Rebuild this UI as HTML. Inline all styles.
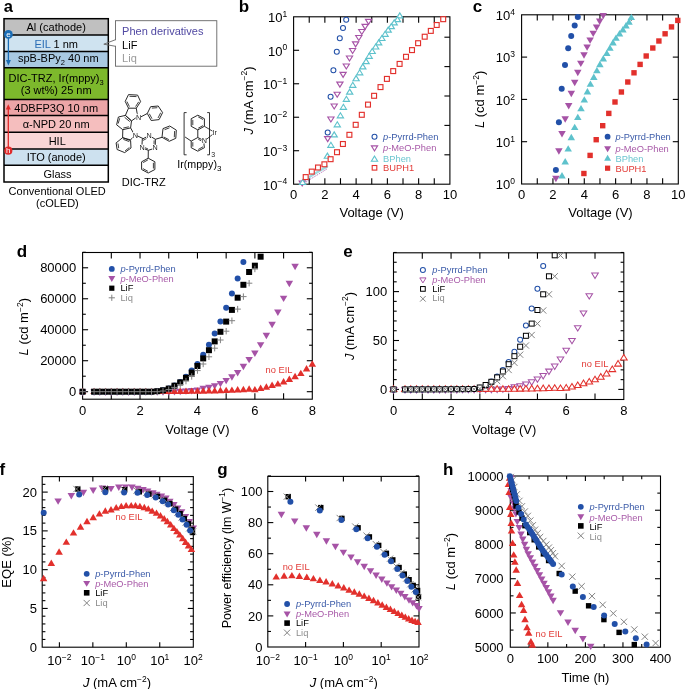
<!DOCTYPE html>
<html><head><meta charset="utf-8"><style>
html,body{margin:0;padding:0;background:#fff;}
svg{display:block;will-change:transform;}
text{font-family:"Liberation Sans",sans-serif;}
</style></head><body>
<svg width="685" height="689" viewBox="0 0 685 689">
<rect width="685" height="689" fill="#fff"/>
<text x="3.7" y="11.7" fill="#000" style="font-size:16.5px;font-weight:bold;">a</text>
<rect x="4" y="18.7" width="104.3" height="16.4" fill="#c0c0c0"/>
<rect x="4" y="35.1" width="104.3" height="16.5" fill="#cfe3f0"/>
<rect x="4" y="51.6" width="104.3" height="16.2" fill="#a9c9e2"/>
<rect x="4" y="67.8" width="104.3" height="31.7" fill="#7db92c"/>
<rect x="4" y="99.5" width="104.3" height="16.1" fill="#eca5a7"/>
<rect x="4" y="115.6" width="104.3" height="16.7" fill="#f5bebe"/>
<rect x="4" y="132.3" width="104.3" height="16.6" fill="#f9d6d6"/>
<rect x="4" y="148.9" width="104.3" height="16.4" fill="#cde1ef"/>
<rect x="4" y="165.3" width="104.3" height="16.7" fill="#ffffff"/>
<line x1="4" y1="35.1" x2="108.3" y2="35.1" stroke="#000" stroke-width="1.5"/>
<line x1="4" y1="51.6" x2="108.3" y2="51.6" stroke="#000" stroke-width="1.5"/>
<line x1="4" y1="67.8" x2="108.3" y2="67.8" stroke="#000" stroke-width="1.5"/>
<line x1="4" y1="99.5" x2="108.3" y2="99.5" stroke="#000" stroke-width="1.5"/>
<line x1="4" y1="115.6" x2="108.3" y2="115.6" stroke="#000" stroke-width="1.5"/>
<line x1="4" y1="132.3" x2="108.3" y2="132.3" stroke="#000" stroke-width="1.5"/>
<line x1="4" y1="148.9" x2="108.3" y2="148.9" stroke="#000" stroke-width="1.5"/>
<line x1="4" y1="165.3" x2="108.3" y2="165.3" stroke="#000" stroke-width="1.5"/>
<rect x="4" y="18.7" width="104.3" height="163.3" fill="none" stroke="#000" stroke-width="1.5"/>
<text x="56.2" y="31.1" text-anchor="middle" fill="#000" style="font-size:11px;">Al (cathode)</text>
<text x="56.2" y="47.9" text-anchor="middle" fill="#000" style="font-size:11px;"><tspan fill="#2a6db5">EIL</tspan> 1 nm</text>
<text x="58.3" y="62.3" text-anchor="middle" fill="#000" style="font-size:11px;">spB-BPy<tspan dy="2.5" font-size="7.5">2</tspan><tspan dy="-2.5"> 40 nm</tspan></text>
<text x="56.1" y="82.2" text-anchor="middle" fill="#000" style="font-size:11px;">DIC-TRZ, Ir(mppy)<tspan dy="2.5" font-size="7.5">3</tspan></text>
<text x="56.2" y="93.5" text-anchor="middle" fill="#000" style="font-size:11px;">(3 wt%) 25 nm</text>
<text x="56.2" y="111.6" text-anchor="middle" fill="#000" style="font-size:11px;">4DBFP3Q 10 nm</text>
<text x="56.2" y="128" text-anchor="middle" fill="#000" style="font-size:11px;">&#945;-NPD 20 nm</text>
<text x="57.2" y="144.6" text-anchor="middle" fill="#000" style="font-size:11px;">HIL</text>
<text x="56.2" y="160.9" text-anchor="middle" fill="#000" style="font-size:11px;">ITO (anode)</text>
<text x="57.5" y="177.6" text-anchor="middle" fill="#000" style="font-size:11px;">Glass</text>
<text x="57.2" y="195" text-anchor="middle" fill="#000" style="font-size:11px;">Conventional OLED</text>
<text x="57.4" y="207.3" text-anchor="middle" fill="#000" style="font-size:11px;">(cOLED)</text>
<line x1="8.4" y1="37.5" x2="8.4" y2="61" stroke="#1b6db5" stroke-width="1.3"/>
<polygon points="5.9,60.0 10.9,60.0 8.4,65.4" fill="#1b6db5"/>
<circle cx="8.4" cy="34.4" r="4.4" fill="#1b6db5"/>
<text x="8.4" y="36.9" text-anchor="middle" fill="#fff" style="font-size:8px;">e</text>
<line x1="8.3" y1="147.5" x2="8.3" y2="109" stroke="#e02a2a" stroke-width="1.3"/>
<polygon points="5.8,109.6 10.8,109.6 8.3,104.2" fill="#e02a2a"/>
<circle cx="8.3" cy="150.7" r="4.1" fill="#e02a2a"/>
<text x="8.3" y="153.4" text-anchor="middle" fill="#fff" style="font-size:8px;">h</text>
<rect x="115.5" y="20.7" width="101.3" height="45.5" fill="#fff" stroke="#666" stroke-width="0.9"/>
<line x1="115.5" y1="40.2" x2="115.5" y2="45.8" stroke="#fff" stroke-width="1.6"/>
<polyline points="115.5,39.7 103.8,44.2 115.5,46.3" fill="none" stroke="#666" stroke-width="0.9"/>
<text x="122.1" y="34.5" fill="#5048a2" style="font-size:11px;">Phen derivatives</text>
<text x="122.1" y="48.6" fill="#000" style="font-size:11px;">LiF</text>
<text x="122.1" y="62" fill="#9a9a9a" style="font-size:11px;">Liq</text>
<polygon points="128.5,94.6 137.6,95.1 140.6,101.6 136.3,108.2 128.5,108.2 125.2,101.4" fill="none" stroke="#1e1e1e" stroke-width="0.95" stroke-linejoin="round"/>
<line x1="129.5" y1="96.3" x2="136.5" y2="96.6" stroke="#1e1e1e" stroke-width="0.85"/>
<line x1="126.9" y1="101.5" x2="129.4" y2="106.6" stroke="#1e1e1e" stroke-width="0.85"/>
<line x1="138.7" y1="101.8" x2="135.6" y2="106.6" stroke="#1e1e1e" stroke-width="0.85"/>
<polyline points="128.5,108.2 125.4,115.4 131.5,120.9 137.6,116.6 136.3,108.2" fill="none" stroke="#1e1e1e" stroke-width="0.95" stroke-linejoin="round"/>
<polygon points="125.4,115.4 131.5,120.9 130.6,127.9 122.8,129.7 116.6,124.8 118.4,117" fill="none" stroke="#1e1e1e" stroke-width="0.95" stroke-linejoin="round"/>
<line x1="118.2" y1="123.5" x2="119.7" y2="118.3" stroke="#1e1e1e" stroke-width="0.85"/>
<line x1="124.6" y1="117.3" x2="129.8" y2="121.6" stroke="#1e1e1e" stroke-width="0.85"/>
<line x1="123.3" y1="128" x2="128.9" y2="126.8" stroke="#1e1e1e" stroke-width="0.85"/>
<polyline points="130.6,127.9 134,134" fill="none" stroke="#1e1e1e" stroke-width="0.95" stroke-linejoin="round"/>
<polyline points="134,136 130.6,139.9 122.6,137.7 122.8,129.7" fill="none" stroke="#1e1e1e" stroke-width="0.95" stroke-linejoin="round"/>
<polygon points="122.6,137.7 130.6,140.6 131,148 124.7,152.6 117.1,149.5 116.1,142.9" fill="none" stroke="#1e1e1e" stroke-width="0.95" stroke-linejoin="round"/>
<line x1="118" y1="143.5" x2="118.7" y2="148.2" stroke="#1e1e1e" stroke-width="0.85"/>
<line x1="125.1" y1="150.8" x2="129.4" y2="147.5" stroke="#1e1e1e" stroke-width="0.85"/>
<line x1="123.4" y1="139.4" x2="129.3" y2="141.6" stroke="#1e1e1e" stroke-width="0.85"/>
<text x="138.6" y="119.6" text-anchor="middle" fill="#1e1e1e" style="font-size:7.2px;" stroke="#fff" stroke-width="1.6" paint-order="stroke">N</text>
<text x="135.3" y="137.6" text-anchor="middle" fill="#1e1e1e" style="font-size:7.2px;" stroke="#fff" stroke-width="1.6" paint-order="stroke">N</text>
<line x1="140.8" y1="116.9" x2="147.3" y2="113.5" stroke="#1e1e1e" stroke-width="0.95"/>
<polygon points="147.3,113.5 150.6,106.7 158.2,106 162.6,112.6 159.1,119.6 151.2,120.5" fill="none" stroke="#1e1e1e" stroke-width="0.95" stroke-linejoin="round"/>
<line x1="151.9" y1="108.1" x2="157.3" y2="107.7" stroke="#1e1e1e" stroke-width="0.85"/>
<line x1="160.7" y1="112.7" x2="158" y2="118" stroke="#1e1e1e" stroke-width="0.85"/>
<line x1="149.3" y1="113.7" x2="152" y2="118.7" stroke="#1e1e1e" stroke-width="0.85"/>
<line x1="137.2" y1="135.8" x2="143.1" y2="138.6" stroke="#1e1e1e" stroke-width="0.95"/>
<line x1="142.3" y1="139.1" x2="146.6" y2="136.9" stroke="#1e1e1e" stroke-width="0.95"/>
<line x1="143" y1="140.4" x2="146.7" y2="138.5" stroke="#1e1e1e" stroke-width="0.8"/>
<line x1="151.4" y1="136.9" x2="155.4" y2="139.3" stroke="#1e1e1e" stroke-width="0.95"/>
<line x1="155.4" y1="139.3" x2="155.3" y2="144.9" stroke="#1e1e1e" stroke-width="0.95"/>
<line x1="154.1" y1="140.4" x2="154" y2="144.6" stroke="#1e1e1e" stroke-width="0.8"/>
<line x1="152.7" y1="148.9" x2="148.3" y2="150.3" stroke="#1e1e1e" stroke-width="0.95"/>
<line x1="148.3" y1="150.3" x2="144.4" y2="148.8" stroke="#1e1e1e" stroke-width="0.95"/>
<line x1="148.1" y1="149" x2="145" y2="147.7" stroke="#1e1e1e" stroke-width="0.8"/>
<line x1="142" y1="144.7" x2="142.3" y2="139.1" stroke="#1e1e1e" stroke-width="0.95"/>
<text x="149" y="138.2" text-anchor="middle" fill="#1e1e1e" style="font-size:7.2px;" stroke="#fff" stroke-width="1.2" paint-order="stroke">N</text>
<text x="155" y="150.2" text-anchor="middle" fill="#1e1e1e" style="font-size:7.2px;" stroke="#fff" stroke-width="1.2" paint-order="stroke">N</text>
<text x="142" y="149.9" text-anchor="middle" fill="#1e1e1e" style="font-size:7.2px;" stroke="#fff" stroke-width="1.2" paint-order="stroke">N</text>
<line x1="155.4" y1="139.3" x2="162" y2="137.3" stroke="#1e1e1e" stroke-width="0.95"/>
<polygon points="162,137.3 163,128.6 169.7,126 176.3,130.1 175.8,138.3 169.2,141.3" fill="none" stroke="#1e1e1e" stroke-width="0.95" stroke-linejoin="round"/>
<line x1="164.6" y1="129.7" x2="169.5" y2="127.8" stroke="#1e1e1e" stroke-width="0.85"/>
<line x1="174.6" y1="131" x2="174.3" y2="137.3" stroke="#1e1e1e" stroke-width="0.85"/>
<line x1="163.7" y1="137" x2="168.8" y2="139.6" stroke="#1e1e1e" stroke-width="0.85"/>
<line x1="148.3" y1="150.3" x2="148.2" y2="158.2" stroke="#1e1e1e" stroke-width="0.95"/>
<polygon points="148.2,158.2 154.9,161.8 154.9,169.5 148.2,173 141.6,169.5 141.6,161.8" fill="none" stroke="#1e1e1e" stroke-width="0.95" stroke-linejoin="round"/>
<line x1="153.4" y1="162.8" x2="153.4" y2="168.5" stroke="#1e1e1e" stroke-width="0.85"/>
<line x1="147.9" y1="171.3" x2="142.9" y2="168.6" stroke="#1e1e1e" stroke-width="0.85"/>
<line x1="143.1" y1="162.6" x2="147.9" y2="159.9" stroke="#1e1e1e" stroke-width="0.85"/>
<text x="143.7" y="185.5" text-anchor="middle" fill="#000" style="font-size:11px;">DIC-TRZ</text>
<polyline points="186.6,112.6 184.1,112.6 184.1,154.8 186.6,154.8" fill="none" stroke="#1e1e1e" stroke-width="0.9" stroke-linejoin="round"/>
<polyline points="207.2,112.6 209.5,112.6 209.5,154.8 207.2,154.8" fill="none" stroke="#1e1e1e" stroke-width="0.9" stroke-linejoin="round"/>
<text x="211.3" y="157" fill="#1e1e1e" style="font-size:7px;">3</text>
<polygon points="197.8,115.2 204.4,118.7 204.4,126.3 197.8,129.9 191.2,126.3 191.2,118.7" fill="none" stroke="#1e1e1e" stroke-width="0.95" stroke-linejoin="round"/>
<line x1="192.8" y1="119.8" x2="192.8" y2="125.2" stroke="#1e1e1e" stroke-width="0.85"/>
<line x1="198.2" y1="116.9" x2="203" y2="119.5" stroke="#1e1e1e" stroke-width="0.85"/>
<line x1="198.2" y1="128.2" x2="203" y2="125.6" stroke="#1e1e1e" stroke-width="0.85"/>
<line x1="197.8" y1="129.9" x2="197.8" y2="137.5" stroke="#1e1e1e" stroke-width="0.95"/>
<polygon points="197.8,137.5 203.5,140.4 204.4,147.7 197.8,151.2 191.2,147.7 191.2,141.1" fill="none" stroke="#1e1e1e" stroke-width="0.95" stroke-linejoin="round"/>
<line x1="192.8" y1="142.2" x2="192.8" y2="146.6" stroke="#1e1e1e" stroke-width="0.85"/>
<line x1="198.2" y1="149.5" x2="203" y2="146.8" stroke="#1e1e1e" stroke-width="0.85"/>
<line x1="198.2" y1="139.2" x2="201.5" y2="141" stroke="#1e1e1e" stroke-width="0.85"/>
<line x1="191.2" y1="141.1" x2="185.1" y2="137" stroke="#1e1e1e" stroke-width="0.95"/>
<text x="204.4" y="142.6" text-anchor="middle" fill="#1e1e1e" style="font-size:7.2px;" stroke="#fff" stroke-width="1.6" paint-order="stroke">N</text>
<line x1="204.4" y1="126.3" x2="213.6" y2="131.8" stroke="#1e1e1e" stroke-width="0.85"/>
<line x1="206.5" y1="139.3" x2="213.6" y2="133.6" stroke="#1e1e1e" stroke-width="0.85"/>
<text x="212.6" y="135.2" fill="#1e1e1e" style="font-size:7.2px;" stroke="#fff" stroke-width="1.4" paint-order="stroke">Ir</text>
<text x="177.2" y="168" fill="#000" style="font-size:10.7px;">Ir(mppy)<tspan dy="3" font-size="8">3</tspan></text>
<text x="238.8" y="11.6" fill="#000" style="font-size:17px;font-weight:bold;">b</text>
<rect x="293.6" y="16.8" width="156.3" height="167.4" fill="none" stroke="#000" stroke-width="1.1"/>
<line x1="309.23" y1="184.2" x2="309.23" y2="178.2" stroke="#000" stroke-width="1.1"/>
<line x1="309.23" y1="16.8" x2="309.23" y2="22.8" stroke="#000" stroke-width="1.1"/>
<line x1="324.86" y1="184.2" x2="324.86" y2="178.2" stroke="#000" stroke-width="1.1"/>
<line x1="324.86" y1="16.8" x2="324.86" y2="22.8" stroke="#000" stroke-width="1.1"/>
<line x1="340.49" y1="184.2" x2="340.49" y2="178.2" stroke="#000" stroke-width="1.1"/>
<line x1="340.49" y1="16.8" x2="340.49" y2="22.8" stroke="#000" stroke-width="1.1"/>
<line x1="356.12" y1="184.2" x2="356.12" y2="178.2" stroke="#000" stroke-width="1.1"/>
<line x1="356.12" y1="16.8" x2="356.12" y2="22.8" stroke="#000" stroke-width="1.1"/>
<line x1="371.75" y1="184.2" x2="371.75" y2="178.2" stroke="#000" stroke-width="1.1"/>
<line x1="371.75" y1="16.8" x2="371.75" y2="22.8" stroke="#000" stroke-width="1.1"/>
<line x1="387.38" y1="184.2" x2="387.38" y2="178.2" stroke="#000" stroke-width="1.1"/>
<line x1="387.38" y1="16.8" x2="387.38" y2="22.8" stroke="#000" stroke-width="1.1"/>
<line x1="403.01" y1="184.2" x2="403.01" y2="178.2" stroke="#000" stroke-width="1.1"/>
<line x1="403.01" y1="16.8" x2="403.01" y2="22.8" stroke="#000" stroke-width="1.1"/>
<line x1="418.64" y1="184.2" x2="418.64" y2="178.2" stroke="#000" stroke-width="1.1"/>
<line x1="418.64" y1="16.8" x2="418.64" y2="22.8" stroke="#000" stroke-width="1.1"/>
<line x1="434.27" y1="184.2" x2="434.27" y2="178.2" stroke="#000" stroke-width="1.1"/>
<line x1="434.27" y1="16.8" x2="434.27" y2="22.8" stroke="#000" stroke-width="1.1"/>
<line x1="293.6" y1="150.72" x2="299.1" y2="150.72" stroke="#000" stroke-width="1.1"/>
<line x1="293.6" y1="117.24" x2="299.1" y2="117.24" stroke="#000" stroke-width="1.1"/>
<line x1="293.6" y1="83.76" x2="299.1" y2="83.76" stroke="#000" stroke-width="1.1"/>
<line x1="293.6" y1="50.28" x2="299.1" y2="50.28" stroke="#000" stroke-width="1.1"/>
<line x1="449.9" y1="154.8" x2="444.4" y2="154.8" stroke="#000" stroke-width="1.1"/>
<line x1="449.9" y1="125.4" x2="444.4" y2="125.4" stroke="#000" stroke-width="1.1"/>
<line x1="449.9" y1="96" x2="444.4" y2="96" stroke="#000" stroke-width="1.1"/>
<line x1="449.9" y1="66.6" x2="444.4" y2="66.6" stroke="#000" stroke-width="1.1"/>
<line x1="449.9" y1="37.2" x2="444.4" y2="37.2" stroke="#000" stroke-width="1.1"/>
<text x="293.6" y="198.6" text-anchor="middle" fill="#000" style="font-size:13px;">0</text>
<text x="324.86" y="198.6" text-anchor="middle" fill="#000" style="font-size:13px;">2</text>
<text x="356.12" y="198.6" text-anchor="middle" fill="#000" style="font-size:13px;">4</text>
<text x="387.38" y="198.6" text-anchor="middle" fill="#000" style="font-size:13px;">6</text>
<text x="418.64" y="198.6" text-anchor="middle" fill="#000" style="font-size:13px;">8</text>
<text x="449.9" y="198.6" text-anchor="middle" fill="#000" style="font-size:13px;">10</text>
<text x="277.51" y="189.5" text-anchor="end" fill="#000" style="font-size:13px;">10</text>
<text x="277.51" y="184.3" fill="#000" style="font-size:8.5px;">&#8722;4</text>
<text x="277.51" y="156.02" text-anchor="end" fill="#000" style="font-size:13px;">10</text>
<text x="277.51" y="150.82" fill="#000" style="font-size:8.5px;">&#8722;3</text>
<text x="277.51" y="122.54" text-anchor="end" fill="#000" style="font-size:13px;">10</text>
<text x="277.51" y="117.34" fill="#000" style="font-size:8.5px;">&#8722;2</text>
<text x="277.51" y="89.06" text-anchor="end" fill="#000" style="font-size:13px;">10</text>
<text x="277.51" y="83.86" fill="#000" style="font-size:8.5px;">&#8722;1</text>
<text x="282.47" y="55.58" text-anchor="end" fill="#000" style="font-size:13px;">10</text>
<text x="282.47" y="50.38" fill="#000" style="font-size:8.5px;">0</text>
<text x="282.47" y="22.1" text-anchor="end" fill="#000" style="font-size:13px;">10</text>
<text x="282.47" y="16.9" fill="#000" style="font-size:8.5px;">1</text>
<text x="371.6" y="217" text-anchor="middle" fill="#000" style="font-size:13px;">Voltage (V)</text>
<g transform="translate(252.8 100.5) rotate(-90)">
<text x="0" y="0" text-anchor="middle" style="font-size:13px"><tspan font-style="italic">J</tspan> (mA cm<tspan dy="-5.6" font-size="8.5">&#8722;2</tspan><tspan dy="5.6">)</tspan></text>
</g>
<polyline points="302.5,181.3 309,177.3 315,173.6 321,170.0 327,166.6" fill="none" stroke="#5ec2cc" stroke-width="2.4" stroke-opacity="0.6" stroke-linecap="round"/>
<polyline points="303.5,183.8 309.5,179.7 315.5,176.0 321.5,172.4 327.5,168.6" fill="none" stroke="#a653a6" stroke-width="1.0" stroke-dasharray="1.6 1.0" stroke-opacity="0.75"/>
<polygon points="299.2,181 305.2,181 302.2,185.8" fill="#fff" stroke="#a653a6" stroke-width="1.15" stroke-linejoin="miter"/>
<polygon points="299.5,184.5 305.7,184.5 302.6,179.5" fill="#fff" stroke="#5ec2cc" stroke-width="1.15" stroke-linejoin="miter"/>
<polygon points="396.7,17.9 402.9,17.9 399.8,12.9" fill="#fff" stroke="#5ec2cc" stroke-width="1.15" stroke-linejoin="miter"/>
<polygon points="394.4,21.6 400.6,21.6 397.5,16.6" fill="#fff" stroke="#5ec2cc" stroke-width="1.15" stroke-linejoin="miter"/>
<polygon points="391.1,24.9 397.3,24.9 394.2,19.9" fill="#fff" stroke="#5ec2cc" stroke-width="1.15" stroke-linejoin="miter"/>
<polygon points="388.2,28.6 394.4,28.6 391.3,23.6" fill="#fff" stroke="#5ec2cc" stroke-width="1.15" stroke-linejoin="miter"/>
<polygon points="385.1,32.1 391.3,32.1 388.2,27.1" fill="#fff" stroke="#5ec2cc" stroke-width="1.15" stroke-linejoin="miter"/>
<polygon points="382,36.3 388.2,36.3 385.1,31.3" fill="#fff" stroke="#5ec2cc" stroke-width="1.15" stroke-linejoin="miter"/>
<polygon points="378.8,40.5 385,40.5 381.9,35.5" fill="#fff" stroke="#5ec2cc" stroke-width="1.15" stroke-linejoin="miter"/>
<polygon points="375.6,44.9 381.8,44.9 378.7,39.9" fill="#fff" stroke="#5ec2cc" stroke-width="1.15" stroke-linejoin="miter"/>
<polygon points="372.6,49 378.8,49 375.7,44" fill="#fff" stroke="#5ec2cc" stroke-width="1.15" stroke-linejoin="miter"/>
<polygon points="369.1,53.5 375.3,53.5 372.2,48.5" fill="#fff" stroke="#5ec2cc" stroke-width="1.15" stroke-linejoin="miter"/>
<polygon points="366.1,58.3 372.3,58.3 369.2,53.3" fill="#fff" stroke="#5ec2cc" stroke-width="1.15" stroke-linejoin="miter"/>
<polygon points="363,63.6 369.2,63.6 366.1,58.6" fill="#fff" stroke="#5ec2cc" stroke-width="1.15" stroke-linejoin="miter"/>
<polygon points="359.7,68.9 365.9,68.9 362.8,63.9" fill="#fff" stroke="#5ec2cc" stroke-width="1.15" stroke-linejoin="miter"/>
<polygon points="356.6,74.8 362.8,74.8 359.7,69.8" fill="#fff" stroke="#5ec2cc" stroke-width="1.15" stroke-linejoin="miter"/>
<polygon points="353,80.7 359.2,80.7 356.1,75.7" fill="#fff" stroke="#5ec2cc" stroke-width="1.15" stroke-linejoin="miter"/>
<polygon points="349.7,87.3 355.9,87.3 352.8,82.3" fill="#fff" stroke="#5ec2cc" stroke-width="1.15" stroke-linejoin="miter"/>
<polygon points="346.6,94.1 352.8,94.1 349.7,89.1" fill="#fff" stroke="#5ec2cc" stroke-width="1.15" stroke-linejoin="miter"/>
<polygon points="343.3,101.3 349.5,101.3 346.4,96.3" fill="#fff" stroke="#5ec2cc" stroke-width="1.15" stroke-linejoin="miter"/>
<polygon points="340.3,109.3 346.5,109.3 343.4,104.3" fill="#fff" stroke="#5ec2cc" stroke-width="1.15" stroke-linejoin="miter"/>
<polygon points="337.3,117.8 343.5,117.8 340.4,112.8" fill="#fff" stroke="#5ec2cc" stroke-width="1.15" stroke-linejoin="miter"/>
<polygon points="334.2,126.8 340.4,126.8 337.3,121.8" fill="#fff" stroke="#5ec2cc" stroke-width="1.15" stroke-linejoin="miter"/>
<polygon points="331.1,136.9 337.3,136.9 334.2,131.9" fill="#fff" stroke="#5ec2cc" stroke-width="1.15" stroke-linejoin="miter"/>
<polygon points="327.8,147.3 334,147.3 330.9,142.3" fill="#fff" stroke="#5ec2cc" stroke-width="1.15" stroke-linejoin="miter"/>
<polygon points="324.3,158.2 330.5,158.2 327.4,153.2" fill="#fff" stroke="#5ec2cc" stroke-width="1.15" stroke-linejoin="miter"/>
<polygon points="324.6,136.6 330.8,136.6 327.7,141.6" fill="#fff" stroke="#a653a6" stroke-width="1.15" stroke-linejoin="miter"/>
<polygon points="327.8,117 334,117 330.9,122" fill="#fff" stroke="#a653a6" stroke-width="1.15" stroke-linejoin="miter"/>
<polygon points="331.1,104 337.3,104 334.2,109" fill="#fff" stroke="#a653a6" stroke-width="1.15" stroke-linejoin="miter"/>
<polygon points="334.1,92.2 340.3,92.2 337.2,97.2" fill="#fff" stroke="#a653a6" stroke-width="1.15" stroke-linejoin="miter"/>
<polygon points="336.8,82.1 343,82.1 339.9,87.1" fill="#fff" stroke="#a653a6" stroke-width="1.15" stroke-linejoin="miter"/>
<polygon points="340,72.4 346.2,72.4 343.1,77.4" fill="#fff" stroke="#a653a6" stroke-width="1.15" stroke-linejoin="miter"/>
<polygon points="343.2,64 349.4,64 346.3,69" fill="#fff" stroke="#a653a6" stroke-width="1.15" stroke-linejoin="miter"/>
<polygon points="346.4,56 352.6,56 349.5,61" fill="#fff" stroke="#a653a6" stroke-width="1.15" stroke-linejoin="miter"/>
<polygon points="349.5,48.5 355.7,48.5 352.6,53.5" fill="#fff" stroke="#a653a6" stroke-width="1.15" stroke-linejoin="miter"/>
<polygon points="352.5,41.9 358.7,41.9 355.6,46.9" fill="#fff" stroke="#a653a6" stroke-width="1.15" stroke-linejoin="miter"/>
<polygon points="355.7,35.5 361.9,35.5 358.8,40.5" fill="#fff" stroke="#a653a6" stroke-width="1.15" stroke-linejoin="miter"/>
<polygon points="358.7,29.5 364.9,29.5 361.8,34.5" fill="#fff" stroke="#a653a6" stroke-width="1.15" stroke-linejoin="miter"/>
<polygon points="362,24.3 368.2,24.3 365.1,29.3" fill="#fff" stroke="#a653a6" stroke-width="1.15" stroke-linejoin="miter"/>
<polygon points="365.5,19.3 371.7,19.3 368.6,24.3" fill="#fff" stroke="#a653a6" stroke-width="1.15" stroke-linejoin="miter"/>
<rect x="303.25" y="174.65" width="4.9" height="4.9" fill="#fff" stroke="#e2302c" stroke-width="1.15"/>
<rect x="309.35" y="169.15" width="4.9" height="4.9" fill="#fff" stroke="#e2302c" stroke-width="1.15"/>
<rect x="315.55" y="165.05" width="4.9" height="4.9" fill="#fff" stroke="#e2302c" stroke-width="1.15"/>
<rect x="321.95" y="161.85" width="4.9" height="4.9" fill="#fff" stroke="#e2302c" stroke-width="1.15"/>
<rect x="328.15" y="156.75" width="4.9" height="4.9" fill="#fff" stroke="#e2302c" stroke-width="1.15"/>
<rect x="334.55" y="149.75" width="4.9" height="4.9" fill="#fff" stroke="#e2302c" stroke-width="1.15"/>
<rect x="340.45" y="141.55" width="4.9" height="4.9" fill="#fff" stroke="#e2302c" stroke-width="1.15"/>
<rect x="346.95" y="132.35" width="4.9" height="4.9" fill="#fff" stroke="#e2302c" stroke-width="1.15"/>
<rect x="353.25" y="122.35" width="4.9" height="4.9" fill="#fff" stroke="#e2302c" stroke-width="1.15"/>
<rect x="359.35" y="112.35" width="4.9" height="4.9" fill="#fff" stroke="#e2302c" stroke-width="1.15"/>
<rect x="365.55" y="102.15" width="4.9" height="4.9" fill="#fff" stroke="#e2302c" stroke-width="1.15"/>
<rect x="371.65" y="93.35" width="4.9" height="4.9" fill="#fff" stroke="#e2302c" stroke-width="1.15"/>
<rect x="378.05" y="84.65" width="4.9" height="4.9" fill="#fff" stroke="#e2302c" stroke-width="1.15"/>
<rect x="384.45" y="76.45" width="4.9" height="4.9" fill="#fff" stroke="#e2302c" stroke-width="1.15"/>
<rect x="390.75" y="68.65" width="4.9" height="4.9" fill="#fff" stroke="#e2302c" stroke-width="1.15"/>
<rect x="397.15" y="61.45" width="4.9" height="4.9" fill="#fff" stroke="#e2302c" stroke-width="1.15"/>
<rect x="403.55" y="54.35" width="4.9" height="4.9" fill="#fff" stroke="#e2302c" stroke-width="1.15"/>
<rect x="409.55" y="47.65" width="4.9" height="4.9" fill="#fff" stroke="#e2302c" stroke-width="1.15"/>
<rect x="415.65" y="40.75" width="4.9" height="4.9" fill="#fff" stroke="#e2302c" stroke-width="1.15"/>
<rect x="422.25" y="34.25" width="4.9" height="4.9" fill="#fff" stroke="#e2302c" stroke-width="1.15"/>
<rect x="428.35" y="28.45" width="4.9" height="4.9" fill="#fff" stroke="#e2302c" stroke-width="1.15"/>
<rect x="434.25" y="22.55" width="4.9" height="4.9" fill="#fff" stroke="#e2302c" stroke-width="1.15"/>
<rect x="440.75" y="16.75" width="4.9" height="4.9" fill="#fff" stroke="#e2302c" stroke-width="1.15"/>
<circle cx="327.7" cy="132.5" r="2.5" fill="#fff" stroke="#2250a8" stroke-width="1.05"/>
<circle cx="330.6" cy="96.7" r="2.5" fill="#fff" stroke="#2250a8" stroke-width="1.05"/>
<circle cx="333.4" cy="70.2" r="2.5" fill="#fff" stroke="#2250a8" stroke-width="1.05"/>
<circle cx="336.8" cy="51.7" r="2.5" fill="#fff" stroke="#2250a8" stroke-width="1.05"/>
<circle cx="339.8" cy="38.2" r="2.5" fill="#fff" stroke="#2250a8" stroke-width="1.05"/>
<circle cx="343" cy="28" r="2.5" fill="#fff" stroke="#2250a8" stroke-width="1.05"/>
<circle cx="346.2" cy="19.8" r="2.5" fill="#fff" stroke="#2250a8" stroke-width="1.05"/>
<circle cx="374.5" cy="136.8" r="2.5" fill="#fff" stroke="#2250a8" stroke-width="1.05"/>
<text x="383.1" y="139.7" fill="#3a5aa8" style="font-size:9.3px;"><tspan font-style="italic">p</tspan>-Pyrrd-Phen</text>
<polygon points="371.4,145.8 377.6,145.8 374.5,151" fill="#fff" stroke="#a653a6" stroke-width="1.15" stroke-linejoin="miter"/>
<text x="383.1" y="150.8" fill="#a85aa8" style="font-size:9.3px;"><tspan font-style="italic">p</tspan>-MeO-Phen</text>
<polygon points="371.4,161.2 377.6,161.2 374.5,156" fill="#fff" stroke="#5ec2cc" stroke-width="1.15" stroke-linejoin="miter"/>
<text x="383.1" y="161.6" fill="#6cc6d0" style="font-size:9.3px;">BPhen</text>
<rect x="372.2" y="165.5" width="4.6" height="4.6" fill="#fff" stroke="#e2302c" stroke-width="1.1"/>
<text x="383.1" y="170.8" fill="#e23a36" style="font-size:9.3px;">BUPH1</text>
<text x="472.7" y="11.6" fill="#000" style="font-size:17px;font-weight:bold;">c</text>
<rect x="521.6" y="14.8" width="156.7" height="169.2" fill="none" stroke="#000" stroke-width="1.1"/>
<line x1="537.27" y1="184" x2="537.27" y2="178.2" stroke="#000" stroke-width="1.1"/>
<line x1="537.27" y1="14.8" x2="537.27" y2="20.6" stroke="#000" stroke-width="1.1"/>
<line x1="552.94" y1="184" x2="552.94" y2="178.2" stroke="#000" stroke-width="1.1"/>
<line x1="552.94" y1="14.8" x2="552.94" y2="20.6" stroke="#000" stroke-width="1.1"/>
<line x1="568.61" y1="184" x2="568.61" y2="178.2" stroke="#000" stroke-width="1.1"/>
<line x1="568.61" y1="14.8" x2="568.61" y2="20.6" stroke="#000" stroke-width="1.1"/>
<line x1="584.28" y1="184" x2="584.28" y2="178.2" stroke="#000" stroke-width="1.1"/>
<line x1="584.28" y1="14.8" x2="584.28" y2="20.6" stroke="#000" stroke-width="1.1"/>
<line x1="599.95" y1="184" x2="599.95" y2="178.2" stroke="#000" stroke-width="1.1"/>
<line x1="599.95" y1="14.8" x2="599.95" y2="20.6" stroke="#000" stroke-width="1.1"/>
<line x1="615.62" y1="184" x2="615.62" y2="178.2" stroke="#000" stroke-width="1.1"/>
<line x1="615.62" y1="14.8" x2="615.62" y2="20.6" stroke="#000" stroke-width="1.1"/>
<line x1="631.29" y1="184" x2="631.29" y2="178.2" stroke="#000" stroke-width="1.1"/>
<line x1="631.29" y1="14.8" x2="631.29" y2="20.6" stroke="#000" stroke-width="1.1"/>
<line x1="646.96" y1="184" x2="646.96" y2="178.2" stroke="#000" stroke-width="1.1"/>
<line x1="646.96" y1="14.8" x2="646.96" y2="20.6" stroke="#000" stroke-width="1.1"/>
<line x1="662.63" y1="184" x2="662.63" y2="178.2" stroke="#000" stroke-width="1.1"/>
<line x1="662.63" y1="14.8" x2="662.63" y2="20.6" stroke="#000" stroke-width="1.1"/>
<line x1="521.6" y1="141.7" x2="527.1" y2="141.7" stroke="#000" stroke-width="1.1"/>
<line x1="678.3" y1="141.7" x2="672.8" y2="141.7" stroke="#000" stroke-width="1.1"/>
<line x1="521.6" y1="99.4" x2="527.1" y2="99.4" stroke="#000" stroke-width="1.1"/>
<line x1="678.3" y1="99.4" x2="672.8" y2="99.4" stroke="#000" stroke-width="1.1"/>
<line x1="521.6" y1="57.1" x2="527.1" y2="57.1" stroke="#000" stroke-width="1.1"/>
<line x1="678.3" y1="57.1" x2="672.8" y2="57.1" stroke="#000" stroke-width="1.1"/>
<text x="521.6" y="198.6" text-anchor="middle" fill="#000" style="font-size:13px;">0</text>
<text x="552.94" y="198.6" text-anchor="middle" fill="#000" style="font-size:13px;">2</text>
<text x="584.28" y="198.6" text-anchor="middle" fill="#000" style="font-size:13px;">4</text>
<text x="615.62" y="198.6" text-anchor="middle" fill="#000" style="font-size:13px;">6</text>
<text x="646.96" y="198.6" text-anchor="middle" fill="#000" style="font-size:13px;">8</text>
<text x="678.3" y="198.6" text-anchor="middle" fill="#000" style="font-size:13px;">10</text>
<text x="510.27" y="189.3" text-anchor="end" fill="#000" style="font-size:13px;">10</text>
<text x="510.27" y="184.1" fill="#000" style="font-size:8.5px;">0</text>
<text x="510.27" y="147" text-anchor="end" fill="#000" style="font-size:13px;">10</text>
<text x="510.27" y="141.8" fill="#000" style="font-size:8.5px;">1</text>
<text x="510.27" y="104.7" text-anchor="end" fill="#000" style="font-size:13px;">10</text>
<text x="510.27" y="99.5" fill="#000" style="font-size:8.5px;">2</text>
<text x="510.27" y="62.4" text-anchor="end" fill="#000" style="font-size:13px;">10</text>
<text x="510.27" y="57.2" fill="#000" style="font-size:8.5px;">3</text>
<text x="510.27" y="20.1" text-anchor="end" fill="#000" style="font-size:13px;">10</text>
<text x="510.27" y="14.9" fill="#000" style="font-size:8.5px;">4</text>
<text x="600.5" y="217" text-anchor="middle" fill="#000" style="font-size:13px;">Voltage (V)</text>
<g transform="translate(484.2 99.4) rotate(-90)">
<text x="0" y="0" text-anchor="middle" style="font-size:13px"><tspan font-style="italic">L</tspan> (cd m<tspan dy="-5.6" font-size="8.5">&#8722;2</tspan><tspan dy="5.6">)</tspan></text>
</g>
<rect x="581.2" y="170.8" width="5.4" height="5.4" fill="#e2302c"/>
<rect x="587.4" y="152.7" width="5.4" height="5.4" fill="#e2302c"/>
<rect x="593.5" y="137" width="5.4" height="5.4" fill="#e2302c"/>
<rect x="600" y="123" width="5.4" height="5.4" fill="#e2302c"/>
<rect x="606.1" y="110.7" width="5.4" height="5.4" fill="#e2302c"/>
<rect x="612.3" y="99.3" width="5.4" height="5.4" fill="#e2302c"/>
<rect x="618.7" y="89.3" width="5.4" height="5.4" fill="#e2302c"/>
<rect x="625.1" y="79.3" width="5.4" height="5.4" fill="#e2302c"/>
<rect x="631.3" y="70.1" width="5.4" height="5.4" fill="#e2302c"/>
<rect x="637.4" y="61.7" width="5.4" height="5.4" fill="#e2302c"/>
<rect x="643.5" y="53.3" width="5.4" height="5.4" fill="#e2302c"/>
<rect x="650.1" y="45.3" width="5.4" height="5.4" fill="#e2302c"/>
<rect x="656.2" y="38.3" width="5.4" height="5.4" fill="#e2302c"/>
<rect x="662.4" y="31.1" width="5.4" height="5.4" fill="#e2302c"/>
<rect x="668.8" y="24.2" width="5.4" height="5.4" fill="#e2302c"/>
<rect x="675.1" y="17.7" width="5.4" height="5.4" fill="#e2302c"/>
<polygon points="558.25,178.4 565.75,178.4 562,172" fill="#5ec2cc"/>
<polygon points="561.45,164.4 568.95,164.4 565.2,158" fill="#5ec2cc"/>
<polygon points="564.45,151.6 571.95,151.6 568.2,145.2" fill="#5ec2cc"/>
<polygon points="567.55,140.2 575.05,140.2 571.3,133.8" fill="#5ec2cc"/>
<polygon points="570.95,130.1 578.45,130.1 574.7,123.7" fill="#5ec2cc"/>
<polygon points="574.05,120.1 581.55,120.1 577.8,113.7" fill="#5ec2cc"/>
<polygon points="577.25,111.3 584.75,111.3 581,104.9" fill="#5ec2cc"/>
<polygon points="580.55,102.6 588.05,102.6 584.3,96.2" fill="#5ec2cc"/>
<polygon points="583.65,94.4 591.15,94.4 587.4,88" fill="#5ec2cc"/>
<polygon points="586.65,86.8 594.15,86.8 590.4,80.4" fill="#5ec2cc"/>
<polygon points="590.05,79.9 597.55,79.9 593.8,73.5" fill="#5ec2cc"/>
<polygon points="593.15,73.3 600.65,73.3 596.9,66.9" fill="#5ec2cc"/>
<polygon points="596.15,67.2 603.65,67.2 599.9,60.8" fill="#5ec2cc"/>
<polygon points="599.55,61.5 607.05,61.5 603.3,55.1" fill="#5ec2cc"/>
<polygon points="603.05,56.1 610.55,56.1 606.8,49.7" fill="#5ec2cc"/>
<polygon points="606.15,50.8 613.65,50.8 609.9,44.4" fill="#5ec2cc"/>
<polygon points="609.25,45.4 616.75,45.4 613,39" fill="#5ec2cc"/>
<polygon points="612.25,40.8 619.75,40.8 616,34.4" fill="#5ec2cc"/>
<polygon points="615.75,36.5 623.25,36.5 619.5,30.1" fill="#5ec2cc"/>
<polygon points="619.15,32.4 626.65,32.4 622.9,26" fill="#5ec2cc"/>
<polygon points="622.25,28.5 629.75,28.5 626,22.1" fill="#5ec2cc"/>
<polygon points="625.25,24.7 632.75,24.7 629,18.3" fill="#5ec2cc"/>
<polygon points="627.55,20.1 635.05,20.1 631.3,13.7" fill="#5ec2cc"/>
<polygon points="552.15,175.8 559.65,175.8 555.9,182.2" fill="#a653a6"/>
<polygon points="555.15,148.3 562.65,148.3 558.9,154.7" fill="#a653a6"/>
<polygon points="558.25,131.1 565.75,131.1 562,137.5" fill="#a653a6"/>
<polygon points="561.45,116.3 568.95,116.3 565.2,122.7" fill="#a653a6"/>
<polygon points="564.95,103.1 572.45,103.1 568.7,109.5" fill="#a653a6"/>
<polygon points="567.55,90.8 575.05,90.8 571.3,97.2" fill="#a653a6"/>
<polygon points="570.95,79.8 578.45,79.8 574.7,86.2" fill="#a653a6"/>
<polygon points="574.05,69.8 581.55,69.8 577.8,76.2" fill="#a653a6"/>
<polygon points="577.05,60.7 584.55,60.7 580.8,67.1" fill="#a653a6"/>
<polygon points="580.25,52.3 587.75,52.3 584,58.7" fill="#a653a6"/>
<polygon points="583.35,44.4 590.85,44.4 587.1,50.8" fill="#a653a6"/>
<polygon points="586.35,37.4 593.85,37.4 590.1,43.8" fill="#a653a6"/>
<polygon points="589.45,30.7 596.95,30.7 593.2,37.1" fill="#a653a6"/>
<polygon points="592.85,24.6 600.35,24.6 596.6,31" fill="#a653a6"/>
<polygon points="595.95,18.5 603.45,18.5 599.7,24.9" fill="#a653a6"/>
<polygon points="599.45,12.9 606.95,12.9 603.2,19.3" fill="#a653a6"/>
<circle cx="555.9" cy="170" r="3" fill="#2250a8"/>
<circle cx="558.9" cy="122.2" r="3" fill="#2250a8"/>
<circle cx="561.7" cy="88.8" r="3" fill="#2250a8"/>
<circle cx="565" cy="65" r="3" fill="#2250a8"/>
<circle cx="568.2" cy="48.2" r="3" fill="#2250a8"/>
<circle cx="571.2" cy="35.9" r="3" fill="#2250a8"/>
<circle cx="574.7" cy="25.4" r="3" fill="#2250a8"/>
<circle cx="577.8" cy="17" r="3" fill="#2250a8"/>
<circle cx="607.6" cy="136.7" r="2.9" fill="#2250a8"/>
<text x="615.5" y="139.7" fill="#3a5aa8" style="font-size:9.3px;"><tspan font-style="italic">p</tspan>-Pyrrd-Phen</text>
<polygon points="604.1,146.35 611.1,146.35 607.6,152.25" fill="#a653a6"/>
<text x="615.5" y="151.7" fill="#a85aa8" style="font-size:9.3px;"><tspan font-style="italic">p</tspan>-MeO-Phen</text>
<polygon points="604.1,160.75 611.1,160.75 607.6,154.85" fill="#5ec2cc"/>
<text x="615.5" y="162" fill="#6cc6d0" style="font-size:9.3px;">BPhen</text>
<rect x="605" y="165.6" width="5.2" height="5.2" fill="#e2302c"/>
<text x="615.5" y="171.8" fill="#e23a36" style="font-size:9.3px;">BUPH1</text>
<text x="16.7" y="257" fill="#000" style="font-size:17px;font-weight:bold;">d</text>
<rect x="82.6" y="252.5" width="229.7" height="146.7" fill="none" stroke="#000" stroke-width="1.1"/>
<line x1="111.31" y1="399.2" x2="111.31" y2="393.2" stroke="#000" stroke-width="1.1"/>
<line x1="111.31" y1="252.5" x2="111.31" y2="258.5" stroke="#000" stroke-width="1.1"/>
<line x1="140.03" y1="399.2" x2="140.03" y2="393.2" stroke="#000" stroke-width="1.1"/>
<line x1="140.03" y1="252.5" x2="140.03" y2="258.5" stroke="#000" stroke-width="1.1"/>
<line x1="168.74" y1="399.2" x2="168.74" y2="393.2" stroke="#000" stroke-width="1.1"/>
<line x1="168.74" y1="252.5" x2="168.74" y2="258.5" stroke="#000" stroke-width="1.1"/>
<line x1="197.45" y1="399.2" x2="197.45" y2="393.2" stroke="#000" stroke-width="1.1"/>
<line x1="197.45" y1="252.5" x2="197.45" y2="258.5" stroke="#000" stroke-width="1.1"/>
<line x1="226.16" y1="399.2" x2="226.16" y2="393.2" stroke="#000" stroke-width="1.1"/>
<line x1="226.16" y1="252.5" x2="226.16" y2="258.5" stroke="#000" stroke-width="1.1"/>
<line x1="254.88" y1="399.2" x2="254.88" y2="393.2" stroke="#000" stroke-width="1.1"/>
<line x1="254.88" y1="252.5" x2="254.88" y2="258.5" stroke="#000" stroke-width="1.1"/>
<line x1="283.59" y1="399.2" x2="283.59" y2="393.2" stroke="#000" stroke-width="1.1"/>
<line x1="283.59" y1="252.5" x2="283.59" y2="258.5" stroke="#000" stroke-width="1.1"/>
<line x1="82.6" y1="391.7" x2="88.1" y2="391.7" stroke="#000" stroke-width="1.1"/>
<line x1="312.3" y1="391.7" x2="306.8" y2="391.7" stroke="#000" stroke-width="1.1"/>
<line x1="82.6" y1="360.72" x2="88.1" y2="360.72" stroke="#000" stroke-width="1.1"/>
<line x1="312.3" y1="360.72" x2="306.8" y2="360.72" stroke="#000" stroke-width="1.1"/>
<line x1="82.6" y1="329.74" x2="88.1" y2="329.74" stroke="#000" stroke-width="1.1"/>
<line x1="312.3" y1="329.74" x2="306.8" y2="329.74" stroke="#000" stroke-width="1.1"/>
<line x1="82.6" y1="298.76" x2="88.1" y2="298.76" stroke="#000" stroke-width="1.1"/>
<line x1="312.3" y1="298.76" x2="306.8" y2="298.76" stroke="#000" stroke-width="1.1"/>
<line x1="82.6" y1="267.78" x2="88.1" y2="267.78" stroke="#000" stroke-width="1.1"/>
<line x1="312.3" y1="267.78" x2="306.8" y2="267.78" stroke="#000" stroke-width="1.1"/>
<line x1="82.6" y1="376.21" x2="85.8" y2="376.21" stroke="#000" stroke-width="1.1"/>
<line x1="312.3" y1="376.21" x2="309.1" y2="376.21" stroke="#000" stroke-width="1.1"/>
<line x1="82.6" y1="345.23" x2="85.8" y2="345.23" stroke="#000" stroke-width="1.1"/>
<line x1="312.3" y1="345.23" x2="309.1" y2="345.23" stroke="#000" stroke-width="1.1"/>
<line x1="82.6" y1="314.25" x2="85.8" y2="314.25" stroke="#000" stroke-width="1.1"/>
<line x1="312.3" y1="314.25" x2="309.1" y2="314.25" stroke="#000" stroke-width="1.1"/>
<line x1="82.6" y1="283.27" x2="85.8" y2="283.27" stroke="#000" stroke-width="1.1"/>
<line x1="312.3" y1="283.27" x2="309.1" y2="283.27" stroke="#000" stroke-width="1.1"/>
<line x1="82.6" y1="252.29" x2="85.8" y2="252.29" stroke="#000" stroke-width="1.1"/>
<line x1="312.3" y1="252.29" x2="309.1" y2="252.29" stroke="#000" stroke-width="1.1"/>
<text x="82.6" y="414.8" text-anchor="middle" fill="#000" style="font-size:13px;">0</text>
<text x="140.03" y="414.8" text-anchor="middle" fill="#000" style="font-size:13px;">2</text>
<text x="197.45" y="414.8" text-anchor="middle" fill="#000" style="font-size:13px;">4</text>
<text x="254.88" y="414.8" text-anchor="middle" fill="#000" style="font-size:13px;">6</text>
<text x="312.3" y="414.8" text-anchor="middle" fill="#000" style="font-size:13px;">8</text>
<text x="76.3" y="396.3" text-anchor="end" fill="#000" style="font-size:13px;">0</text>
<text x="76.3" y="365.32" text-anchor="end" fill="#000" style="font-size:13px;">20000</text>
<text x="76.3" y="334.34" text-anchor="end" fill="#000" style="font-size:13px;">40000</text>
<text x="76.3" y="303.36" text-anchor="end" fill="#000" style="font-size:13px;">60000</text>
<text x="76.3" y="272.38" text-anchor="end" fill="#000" style="font-size:13px;">80000</text>
<text x="197.4" y="433.5" text-anchor="middle" fill="#000" style="font-size:13px;">Voltage (V)</text>
<g transform="translate(28.1 326.7) rotate(-90)">
<text x="0" y="0" text-anchor="middle" style="font-size:13px"><tspan font-style="italic">L</tspan> (cd m<tspan dy="-5.6" font-size="8.5">&#8722;2</tspan><tspan dy="5.6">)</tspan></text>
</g>
<polygon points="78.85,389.57 86.35,389.57 82.6,395.97" fill="#a653a6"/>
<polygon points="90.33,389.57 97.83,389.57 94.08,395.97" fill="#a653a6"/>
<polygon points="96.08,389.56 103.58,389.56 99.83,395.96" fill="#a653a6"/>
<polygon points="101.82,389.56 109.32,389.56 105.57,395.96" fill="#a653a6"/>
<polygon points="107.56,389.55 115.06,389.55 111.31,395.95" fill="#a653a6"/>
<polygon points="113.3,389.55 120.8,389.55 117.05,395.95" fill="#a653a6"/>
<polygon points="119.05,389.54 126.55,389.54 122.8,395.94" fill="#a653a6"/>
<polygon points="124.79,389.52 132.29,389.52 128.54,395.92" fill="#a653a6"/>
<polygon points="130.53,389.51 138.03,389.51 134.28,395.91" fill="#a653a6"/>
<polygon points="136.28,389.49 143.78,389.49 140.03,395.89" fill="#a653a6"/>
<polygon points="142.02,389.47 149.52,389.47 145.77,395.87" fill="#a653a6"/>
<polygon points="147.76,389.45 155.26,389.45 151.51,395.85" fill="#a653a6"/>
<polygon points="153.5,389.43 161,389.43 157.25,395.83" fill="#a653a6"/>
<polygon points="159.25,389.4 166.75,389.4 163,395.8" fill="#a653a6"/>
<polygon points="164.99,389.37 172.49,389.37 168.74,395.77" fill="#a653a6"/>
<polygon points="170.73,389.21 178.23,389.21 174.48,395.61" fill="#a653a6"/>
<polygon points="176.47,388.87 183.97,388.87 180.22,395.27" fill="#a653a6"/>
<polygon points="182.22,388.47 189.72,388.47 185.97,394.87" fill="#a653a6"/>
<polygon points="187.96,388.03 195.46,388.03 191.71,394.43" fill="#a653a6"/>
<polygon points="193.7,387.47 201.2,387.47 197.45,393.87" fill="#a653a6"/>
<polygon points="199.44,385.72 206.94,385.72 203.19,392.12" fill="#a653a6"/>
<polygon points="205.19,384.8 212.69,384.8 208.94,391.2" fill="#a653a6"/>
<polygon points="210.93,383.2 218.43,383.2 214.68,389.6" fill="#a653a6"/>
<polygon points="216.67,380.9 224.17,380.9 220.42,387.3" fill="#a653a6"/>
<polygon points="222.41,377.9 229.91,377.9 226.16,384.3" fill="#a653a6"/>
<polygon points="228.16,374.3 235.66,374.3 231.91,380.7" fill="#a653a6"/>
<polygon points="233.9,370 241.4,370 237.65,376.4" fill="#a653a6"/>
<polygon points="239.64,363.8 247.14,363.8 243.39,370.2" fill="#a653a6"/>
<polygon points="245.38,356.9 252.88,356.9 249.13,363.3" fill="#a653a6"/>
<polygon points="251.12,350.6 258.62,350.6 254.88,357" fill="#a653a6"/>
<polygon points="256.87,342.2 264.37,342.2 260.62,348.6" fill="#a653a6"/>
<polygon points="262.61,332.8 270.11,332.8 266.36,339.2" fill="#a653a6"/>
<polygon points="268.35,321.8 275.85,321.8 272.1,328.2" fill="#a653a6"/>
<polygon points="274.1,309.5 281.6,309.5 277.85,315.9" fill="#a653a6"/>
<polygon points="279.84,295.7 287.34,295.7 283.59,302.1" fill="#a653a6"/>
<polygon points="285.58,280.8 293.08,280.8 289.33,287.2" fill="#a653a6"/>
<polygon points="291.32,263.8 298.82,263.8 295.07,270.2" fill="#a653a6"/>
<polygon points="78.85,394.03 86.35,394.03 82.6,387.63" fill="#e2302c"/>
<polygon points="90.33,394.03 97.83,394.03 94.08,387.63" fill="#e2302c"/>
<polygon points="96.08,394.03 103.58,394.03 99.83,387.63" fill="#e2302c"/>
<polygon points="101.82,394.03 109.32,394.03 105.57,387.63" fill="#e2302c"/>
<polygon points="107.56,394.03 115.06,394.03 111.31,387.63" fill="#e2302c"/>
<polygon points="113.3,394.03 120.8,394.03 117.05,387.63" fill="#e2302c"/>
<polygon points="119.05,394.03 126.55,394.03 122.8,387.63" fill="#e2302c"/>
<polygon points="124.79,394.03 132.29,394.03 128.54,387.63" fill="#e2302c"/>
<polygon points="130.53,394.03 138.03,394.03 134.28,387.63" fill="#e2302c"/>
<polygon points="136.28,394.03 143.78,394.03 140.03,387.63" fill="#e2302c"/>
<polygon points="142.02,394.03 149.52,394.03 145.77,387.63" fill="#e2302c"/>
<polygon points="147.76,394.03 155.26,394.03 151.51,387.63" fill="#e2302c"/>
<polygon points="153.5,394.03 161,394.03 157.25,387.63" fill="#e2302c"/>
<polygon points="159.25,394.03 166.75,394.03 163,387.63" fill="#e2302c"/>
<polygon points="164.99,394.03 172.49,394.03 168.74,387.63" fill="#e2302c"/>
<polygon points="170.73,394.01 178.23,394.01 174.48,387.61" fill="#e2302c"/>
<polygon points="176.47,393.96 183.97,393.96 180.22,387.56" fill="#e2302c"/>
<polygon points="182.22,393.9 189.72,393.9 185.97,387.5" fill="#e2302c"/>
<polygon points="187.96,393.81 195.46,393.81 191.71,387.41" fill="#e2302c"/>
<polygon points="193.7,393.73 201.2,393.73 197.45,387.33" fill="#e2302c"/>
<polygon points="199.44,393.63 206.94,393.63 203.19,387.23" fill="#e2302c"/>
<polygon points="205.19,393.52 212.69,393.52 208.94,387.12" fill="#e2302c"/>
<polygon points="210.93,393.38 218.43,393.38 214.68,386.98" fill="#e2302c"/>
<polygon points="216.67,393.22 224.17,393.22 220.42,386.82" fill="#e2302c"/>
<polygon points="222.41,393.03 229.91,393.03 226.16,386.63" fill="#e2302c"/>
<polygon points="228.16,392.79 235.66,392.79 231.91,386.39" fill="#e2302c"/>
<polygon points="233.9,392.48 241.4,392.48 237.65,386.08" fill="#e2302c"/>
<polygon points="239.64,392.13 247.14,392.13 243.39,385.73" fill="#e2302c"/>
<polygon points="245.38,391.77 252.88,391.77 249.13,385.37" fill="#e2302c"/>
<polygon points="251.12,392.3 258.62,392.3 254.88,385.9" fill="#e2302c"/>
<polygon points="256.87,391 264.37,391 260.62,384.6" fill="#e2302c"/>
<polygon points="262.61,389.7 270.11,389.7 266.36,383.3" fill="#e2302c"/>
<polygon points="268.35,387.9 275.85,387.9 272.1,381.5" fill="#e2302c"/>
<polygon points="274.1,386.6 281.6,386.6 277.85,380.2" fill="#e2302c"/>
<polygon points="279.84,384.5 287.34,384.5 283.59,378.1" fill="#e2302c"/>
<polygon points="285.58,381.9 293.08,381.9 289.33,375.5" fill="#e2302c"/>
<polygon points="291.32,379.2 298.82,379.2 295.07,372.8" fill="#e2302c"/>
<polygon points="297.06,376.1 304.56,376.1 300.81,369.7" fill="#e2302c"/>
<polygon points="302.81,371.4 310.31,371.4 306.56,365" fill="#e2302c"/>
<polygon points="308.55,366.7 316.05,366.7 312.3,360.3" fill="#e2302c"/>
<circle cx="82.6" cy="391.7" r="3" fill="#2250a8"/>
<circle cx="94.08" cy="391.7" r="3" fill="#2250a8"/>
<circle cx="99.83" cy="391.7" r="3" fill="#2250a8"/>
<circle cx="105.57" cy="391.7" r="3" fill="#2250a8"/>
<circle cx="111.31" cy="391.7" r="3" fill="#2250a8"/>
<circle cx="117.05" cy="391.7" r="3" fill="#2250a8"/>
<circle cx="122.8" cy="391.7" r="3" fill="#2250a8"/>
<circle cx="128.54" cy="391.7" r="3" fill="#2250a8"/>
<circle cx="134.28" cy="391.7" r="3" fill="#2250a8"/>
<circle cx="140.03" cy="391.7" r="3" fill="#2250a8"/>
<circle cx="145.77" cy="391.7" r="3" fill="#2250a8"/>
<circle cx="151.51" cy="391.7" r="3" fill="#2250a8"/>
<circle cx="157.25" cy="391.26" r="3" fill="#2250a8"/>
<circle cx="163" cy="390.3" r="3" fill="#2250a8"/>
<circle cx="168.74" cy="388.6" r="3" fill="#2250a8"/>
<circle cx="174.48" cy="385.6" r="3" fill="#2250a8"/>
<circle cx="180.22" cy="382" r="3" fill="#2250a8"/>
<circle cx="185.97" cy="376.8" r="3" fill="#2250a8"/>
<circle cx="191.71" cy="370.6" r="3" fill="#2250a8"/>
<circle cx="197.45" cy="364" r="3" fill="#2250a8"/>
<circle cx="203.19" cy="354.8" r="3" fill="#2250a8"/>
<circle cx="208.94" cy="344.7" r="3" fill="#2250a8"/>
<circle cx="214.68" cy="333.5" r="3" fill="#2250a8"/>
<circle cx="220.42" cy="321.6" r="3" fill="#2250a8"/>
<circle cx="226.16" cy="307.8" r="3" fill="#2250a8"/>
<circle cx="231.91" cy="293.4" r="3" fill="#2250a8"/>
<circle cx="237.65" cy="278.4" r="3" fill="#2250a8"/>
<circle cx="243.39" cy="262" r="3" fill="#2250a8"/>
<rect x="79.6" y="388.7" width="6" height="6" fill="#000"/>
<rect x="91.08" y="388.7" width="6" height="6" fill="#000"/>
<rect x="96.83" y="388.7" width="6" height="6" fill="#000"/>
<rect x="102.57" y="388.7" width="6" height="6" fill="#000"/>
<rect x="108.31" y="388.7" width="6" height="6" fill="#000"/>
<rect x="114.05" y="388.7" width="6" height="6" fill="#000"/>
<rect x="119.8" y="388.7" width="6" height="6" fill="#000"/>
<rect x="125.54" y="388.7" width="6" height="6" fill="#000"/>
<rect x="131.28" y="388.7" width="6" height="6" fill="#000"/>
<rect x="137.03" y="388.7" width="6" height="6" fill="#000"/>
<rect x="142.77" y="388.7" width="6" height="6" fill="#000"/>
<rect x="148.51" y="388.7" width="6" height="6" fill="#000"/>
<rect x="154.25" y="388.2" width="6" height="6" fill="#000"/>
<rect x="160" y="387.3" width="6" height="6" fill="#000"/>
<rect x="165.74" y="385.6" width="6" height="6" fill="#000"/>
<rect x="171.48" y="382.7" width="6" height="6" fill="#000"/>
<rect x="177.22" y="379.4" width="6" height="6" fill="#000"/>
<rect x="182.97" y="374.8" width="6" height="6" fill="#000"/>
<rect x="188.71" y="369.6" width="6" height="6" fill="#000"/>
<rect x="194.45" y="363" width="6" height="6" fill="#000"/>
<rect x="200.19" y="355.4" width="6" height="6" fill="#000"/>
<rect x="205.94" y="347.2" width="6" height="6" fill="#000"/>
<rect x="211.68" y="338.4" width="6" height="6" fill="#000"/>
<rect x="217.42" y="328.8" width="6" height="6" fill="#000"/>
<rect x="223.16" y="318.6" width="6" height="6" fill="#000"/>
<rect x="228.91" y="306.9" width="6" height="6" fill="#000"/>
<rect x="234.65" y="294.7" width="6" height="6" fill="#000"/>
<rect x="240.39" y="281.8" width="6" height="6" fill="#000"/>
<rect x="246.13" y="269" width="6" height="6" fill="#000"/>
<rect x="251.88" y="262.7" width="6" height="6" fill="#000"/>
<rect x="257.62" y="253.7" width="6" height="6" fill="#000"/>
<path d="M79.4 391.7H85.8M82.6 388.5V394.9" stroke="#828282" stroke-width="1" fill="none"/>
<path d="M90.88 391.7H97.28M94.08 388.5V394.9" stroke="#828282" stroke-width="1" fill="none"/>
<path d="M96.63 391.7H103.03M99.83 388.5V394.9" stroke="#828282" stroke-width="1" fill="none"/>
<path d="M102.37 391.7H108.77M105.57 388.5V394.9" stroke="#828282" stroke-width="1" fill="none"/>
<path d="M108.11 391.7H114.51M111.31 388.5V394.9" stroke="#828282" stroke-width="1" fill="none"/>
<path d="M113.85 391.7H120.25M117.05 388.5V394.9" stroke="#828282" stroke-width="1" fill="none"/>
<path d="M119.6 391.7H126M122.8 388.5V394.9" stroke="#828282" stroke-width="1" fill="none"/>
<path d="M125.34 391.7H131.74M128.54 388.5V394.9" stroke="#828282" stroke-width="1" fill="none"/>
<path d="M131.08 391.7H137.48M134.28 388.5V394.9" stroke="#828282" stroke-width="1" fill="none"/>
<path d="M136.83 391.7H143.22M140.03 388.5V394.9" stroke="#828282" stroke-width="1" fill="none"/>
<path d="M142.57 391.7H148.97M145.77 388.5V394.9" stroke="#828282" stroke-width="1" fill="none"/>
<path d="M148.31 391.7H154.71M151.51 388.5V394.9" stroke="#828282" stroke-width="1" fill="none"/>
<path d="M154.05 391.7H160.45M157.25 388.5V394.9" stroke="#828282" stroke-width="1" fill="none"/>
<path d="M159.8 391H166.19M163 387.8V394.2" stroke="#828282" stroke-width="1" fill="none"/>
<path d="M165.54 389.6H171.94M168.74 386.4V392.8" stroke="#828282" stroke-width="1" fill="none"/>
<path d="M171.28 387.4H177.68M174.48 384.2V390.6" stroke="#828282" stroke-width="1" fill="none"/>
<path d="M177.02 384.6H183.42M180.22 381.4V387.8" stroke="#828282" stroke-width="1" fill="none"/>
<path d="M182.77 381.1H189.16M185.97 377.9V384.3" stroke="#828282" stroke-width="1" fill="none"/>
<path d="M188.51 376.5H194.91M191.71 373.3V379.7" stroke="#828282" stroke-width="1" fill="none"/>
<path d="M194.25 370.6H200.65M197.45 367.4V373.8" stroke="#828282" stroke-width="1" fill="none"/>
<path d="M199.99 364H206.39M203.19 360.8V367.2" stroke="#828282" stroke-width="1" fill="none"/>
<path d="M205.74 356.8H212.13M208.94 353.6V360" stroke="#828282" stroke-width="1" fill="none"/>
<path d="M211.48 348.2H217.88M214.68 345V351.4" stroke="#828282" stroke-width="1" fill="none"/>
<path d="M217.22 340H223.62M220.42 336.8V343.2" stroke="#828282" stroke-width="1" fill="none"/>
<path d="M222.96 331.2H229.36M226.16 328V334.4" stroke="#828282" stroke-width="1" fill="none"/>
<path d="M228.71 320.7H235.1M231.91 317.5V323.9" stroke="#828282" stroke-width="1" fill="none"/>
<path d="M234.45 309.1H240.85M237.65 305.9V312.3" stroke="#828282" stroke-width="1" fill="none"/>
<path d="M240.19 296.6H246.59M243.39 293.4V299.8" stroke="#828282" stroke-width="1" fill="none"/>
<path d="M245.93 283.2H252.33M249.13 280V286.4" stroke="#828282" stroke-width="1" fill="none"/>
<path d="M251.68 269H258.07M254.88 265.8V272.2" stroke="#828282" stroke-width="1" fill="none"/>
<circle cx="111.8" cy="268.9" r="2.9" fill="#2250a8"/>
<text x="120.4" y="271.6" fill="#3a5aa8" style="font-size:9.3px;"><tspan font-style="italic">p</tspan>-Pyrrd-Phen</text>
<polygon points="108.3,276.05 115.3,276.05 111.8,281.95" fill="#a653a6"/>
<text x="120.4" y="281.6" fill="#a85aa8" style="font-size:9.3px;"><tspan font-style="italic">p</tspan>-MeO-Phen</text>
<rect x="109.2" y="285.6" width="5.2" height="5.2" fill="#000"/>
<text x="120.4" y="291" fill="#000" style="font-size:9.3px;">LiF</text>
<path d="M108.7 297.8H114.9M111.8 294.7V300.9" stroke="#828282" stroke-width="1" fill="none"/>
<text x="120.4" y="300.6" fill="#8c8c8c" style="font-size:9.3px;">Liq</text>
<text x="265.6" y="372.7" fill="#e23a36" style="font-size:9.3px;">no EIL</text>
<text x="343.2" y="257.1" fill="#000" style="font-size:17px;font-weight:bold;">e</text>
<rect x="393.5" y="252.8" width="230.3" height="146.7" fill="none" stroke="#000" stroke-width="1.1"/>
<line x1="422.29" y1="399.5" x2="422.29" y2="393.5" stroke="#000" stroke-width="1.1"/>
<line x1="422.29" y1="252.8" x2="422.29" y2="258.8" stroke="#000" stroke-width="1.1"/>
<line x1="451.07" y1="399.5" x2="451.07" y2="393.5" stroke="#000" stroke-width="1.1"/>
<line x1="451.07" y1="252.8" x2="451.07" y2="258.8" stroke="#000" stroke-width="1.1"/>
<line x1="479.86" y1="399.5" x2="479.86" y2="393.5" stroke="#000" stroke-width="1.1"/>
<line x1="479.86" y1="252.8" x2="479.86" y2="258.8" stroke="#000" stroke-width="1.1"/>
<line x1="508.65" y1="399.5" x2="508.65" y2="393.5" stroke="#000" stroke-width="1.1"/>
<line x1="508.65" y1="252.8" x2="508.65" y2="258.8" stroke="#000" stroke-width="1.1"/>
<line x1="537.44" y1="399.5" x2="537.44" y2="393.5" stroke="#000" stroke-width="1.1"/>
<line x1="537.44" y1="252.8" x2="537.44" y2="258.8" stroke="#000" stroke-width="1.1"/>
<line x1="566.22" y1="399.5" x2="566.22" y2="393.5" stroke="#000" stroke-width="1.1"/>
<line x1="566.22" y1="252.8" x2="566.22" y2="258.8" stroke="#000" stroke-width="1.1"/>
<line x1="595.01" y1="399.5" x2="595.01" y2="393.5" stroke="#000" stroke-width="1.1"/>
<line x1="595.01" y1="252.8" x2="595.01" y2="258.8" stroke="#000" stroke-width="1.1"/>
<line x1="393.5" y1="389.4" x2="399" y2="389.4" stroke="#000" stroke-width="1.1"/>
<line x1="623.8" y1="389.4" x2="618.3" y2="389.4" stroke="#000" stroke-width="1.1"/>
<line x1="393.5" y1="340.5" x2="399" y2="340.5" stroke="#000" stroke-width="1.1"/>
<line x1="623.8" y1="340.5" x2="618.3" y2="340.5" stroke="#000" stroke-width="1.1"/>
<line x1="393.5" y1="291.6" x2="399" y2="291.6" stroke="#000" stroke-width="1.1"/>
<line x1="623.8" y1="291.6" x2="618.3" y2="291.6" stroke="#000" stroke-width="1.1"/>
<line x1="393.5" y1="379.62" x2="396.7" y2="379.62" stroke="#000" stroke-width="1.1"/>
<line x1="623.8" y1="379.62" x2="620.6" y2="379.62" stroke="#000" stroke-width="1.1"/>
<line x1="393.5" y1="369.84" x2="396.7" y2="369.84" stroke="#000" stroke-width="1.1"/>
<line x1="623.8" y1="369.84" x2="620.6" y2="369.84" stroke="#000" stroke-width="1.1"/>
<line x1="393.5" y1="360.06" x2="396.7" y2="360.06" stroke="#000" stroke-width="1.1"/>
<line x1="623.8" y1="360.06" x2="620.6" y2="360.06" stroke="#000" stroke-width="1.1"/>
<line x1="393.5" y1="350.28" x2="396.7" y2="350.28" stroke="#000" stroke-width="1.1"/>
<line x1="623.8" y1="350.28" x2="620.6" y2="350.28" stroke="#000" stroke-width="1.1"/>
<line x1="393.5" y1="330.72" x2="396.7" y2="330.72" stroke="#000" stroke-width="1.1"/>
<line x1="623.8" y1="330.72" x2="620.6" y2="330.72" stroke="#000" stroke-width="1.1"/>
<line x1="393.5" y1="320.94" x2="396.7" y2="320.94" stroke="#000" stroke-width="1.1"/>
<line x1="623.8" y1="320.94" x2="620.6" y2="320.94" stroke="#000" stroke-width="1.1"/>
<line x1="393.5" y1="311.16" x2="396.7" y2="311.16" stroke="#000" stroke-width="1.1"/>
<line x1="623.8" y1="311.16" x2="620.6" y2="311.16" stroke="#000" stroke-width="1.1"/>
<line x1="393.5" y1="301.38" x2="396.7" y2="301.38" stroke="#000" stroke-width="1.1"/>
<line x1="623.8" y1="301.38" x2="620.6" y2="301.38" stroke="#000" stroke-width="1.1"/>
<line x1="393.5" y1="281.82" x2="396.7" y2="281.82" stroke="#000" stroke-width="1.1"/>
<line x1="623.8" y1="281.82" x2="620.6" y2="281.82" stroke="#000" stroke-width="1.1"/>
<line x1="393.5" y1="272.04" x2="396.7" y2="272.04" stroke="#000" stroke-width="1.1"/>
<line x1="623.8" y1="272.04" x2="620.6" y2="272.04" stroke="#000" stroke-width="1.1"/>
<line x1="393.5" y1="262.26" x2="396.7" y2="262.26" stroke="#000" stroke-width="1.1"/>
<line x1="623.8" y1="262.26" x2="620.6" y2="262.26" stroke="#000" stroke-width="1.1"/>
<line x1="393.5" y1="252.48" x2="396.7" y2="252.48" stroke="#000" stroke-width="1.1"/>
<line x1="623.8" y1="252.48" x2="620.6" y2="252.48" stroke="#000" stroke-width="1.1"/>
<text x="393.5" y="414.8" text-anchor="middle" fill="#000" style="font-size:13px;">0</text>
<text x="451.07" y="414.8" text-anchor="middle" fill="#000" style="font-size:13px;">2</text>
<text x="508.65" y="414.8" text-anchor="middle" fill="#000" style="font-size:13px;">4</text>
<text x="566.22" y="414.8" text-anchor="middle" fill="#000" style="font-size:13px;">6</text>
<text x="623.8" y="414.8" text-anchor="middle" fill="#000" style="font-size:13px;">8</text>
<text x="387.2" y="394" text-anchor="end" fill="#000" style="font-size:13px;">0</text>
<text x="387.2" y="345.1" text-anchor="end" fill="#000" style="font-size:13px;">50</text>
<text x="387.2" y="296.2" text-anchor="end" fill="#000" style="font-size:13px;">100</text>
<text x="504.2" y="433.5" text-anchor="middle" fill="#000" style="font-size:13px;">Voltage (V)</text>
<g transform="translate(354 326) rotate(-90)">
<text x="0" y="0" text-anchor="middle" style="font-size:13px"><tspan font-style="italic">J</tspan> (mA cm<tspan dy="-5.6" font-size="8.5">&#8722;2</tspan><tspan dy="5.6">)</tspan></text>
</g>
<polygon points="390.2,387.6 396.8,387.6 393.5,393" fill="#fff" stroke="#a653a6" stroke-width="1.05" stroke-linejoin="miter"/>
<polygon points="401.71,387.6 408.31,387.6 405.01,393" fill="#fff" stroke="#a653a6" stroke-width="1.05" stroke-linejoin="miter"/>
<polygon points="407.47,387.59 414.07,387.59 410.77,392.99" fill="#fff" stroke="#a653a6" stroke-width="1.05" stroke-linejoin="miter"/>
<polygon points="413.23,387.59 419.83,387.59 416.53,392.99" fill="#fff" stroke="#a653a6" stroke-width="1.05" stroke-linejoin="miter"/>
<polygon points="418.99,387.58 425.59,387.58 422.29,392.98" fill="#fff" stroke="#a653a6" stroke-width="1.05" stroke-linejoin="miter"/>
<polygon points="424.75,387.57 431.35,387.57 428.05,392.97" fill="#fff" stroke="#a653a6" stroke-width="1.05" stroke-linejoin="miter"/>
<polygon points="430.5,387.56 437.1,387.56 433.8,392.96" fill="#fff" stroke="#a653a6" stroke-width="1.05" stroke-linejoin="miter"/>
<polygon points="436.26,387.54 442.86,387.54 439.56,392.94" fill="#fff" stroke="#a653a6" stroke-width="1.05" stroke-linejoin="miter"/>
<polygon points="442.02,387.52 448.62,387.52 445.32,392.92" fill="#fff" stroke="#a653a6" stroke-width="1.05" stroke-linejoin="miter"/>
<polygon points="447.77,387.5 454.38,387.5 451.07,392.9" fill="#fff" stroke="#a653a6" stroke-width="1.05" stroke-linejoin="miter"/>
<polygon points="453.53,387.48 460.13,387.48 456.83,392.88" fill="#fff" stroke="#a653a6" stroke-width="1.05" stroke-linejoin="miter"/>
<polygon points="459.29,387.45 465.89,387.45 462.59,392.85" fill="#fff" stroke="#a653a6" stroke-width="1.05" stroke-linejoin="miter"/>
<polygon points="465.05,387.42 471.65,387.42 468.35,392.82" fill="#fff" stroke="#a653a6" stroke-width="1.05" stroke-linejoin="miter"/>
<polygon points="470.8,387.38 477.4,387.38 474.1,392.78" fill="#fff" stroke="#a653a6" stroke-width="1.05" stroke-linejoin="miter"/>
<polygon points="476.56,387.34 483.16,387.34 479.86,392.74" fill="#fff" stroke="#a653a6" stroke-width="1.05" stroke-linejoin="miter"/>
<polygon points="482.32,387.3 488.92,387.3 485.62,392.7" fill="#fff" stroke="#a653a6" stroke-width="1.05" stroke-linejoin="miter"/>
<polygon points="488.08,387.25 494.68,387.25 491.38,392.65" fill="#fff" stroke="#a653a6" stroke-width="1.05" stroke-linejoin="miter"/>
<polygon points="493.83,387.2 500.44,387.2 497.13,392.6" fill="#fff" stroke="#a653a6" stroke-width="1.05" stroke-linejoin="miter"/>
<polygon points="499.59,386.92 506.19,386.92 502.89,392.32" fill="#fff" stroke="#a653a6" stroke-width="1.05" stroke-linejoin="miter"/>
<polygon points="505.35,386.4 511.95,386.4 508.65,391.8" fill="#fff" stroke="#a653a6" stroke-width="1.05" stroke-linejoin="miter"/>
<polygon points="511.11,384.77 517.71,384.77 514.41,390.17" fill="#fff" stroke="#a653a6" stroke-width="1.05" stroke-linejoin="miter"/>
<polygon points="516.87,383.7 523.46,383.7 520.16,389.1" fill="#fff" stroke="#a653a6" stroke-width="1.05" stroke-linejoin="miter"/>
<polygon points="522.62,382 529.22,382 525.92,387.4" fill="#fff" stroke="#a653a6" stroke-width="1.05" stroke-linejoin="miter"/>
<polygon points="528.38,379.8 534.98,379.8 531.68,385.2" fill="#fff" stroke="#a653a6" stroke-width="1.05" stroke-linejoin="miter"/>
<polygon points="534.14,376.9 540.74,376.9 537.44,382.3" fill="#fff" stroke="#a653a6" stroke-width="1.05" stroke-linejoin="miter"/>
<polygon points="539.89,373.5 546.49,373.5 543.19,378.9" fill="#fff" stroke="#a653a6" stroke-width="1.05" stroke-linejoin="miter"/>
<polygon points="545.65,369.1 552.25,369.1 548.95,374.5" fill="#fff" stroke="#a653a6" stroke-width="1.05" stroke-linejoin="miter"/>
<polygon points="551.41,364 558.01,364 554.71,369.4" fill="#fff" stroke="#a653a6" stroke-width="1.05" stroke-linejoin="miter"/>
<polygon points="557.17,356.9 563.77,356.9 560.47,362.3" fill="#fff" stroke="#a653a6" stroke-width="1.05" stroke-linejoin="miter"/>
<polygon points="562.92,348.2 569.52,348.2 566.22,353.6" fill="#fff" stroke="#a653a6" stroke-width="1.05" stroke-linejoin="miter"/>
<polygon points="568.68,338.4 575.28,338.4 571.98,343.8" fill="#fff" stroke="#a653a6" stroke-width="1.05" stroke-linejoin="miter"/>
<polygon points="574.44,325.7 581.04,325.7 577.74,331.1" fill="#fff" stroke="#a653a6" stroke-width="1.05" stroke-linejoin="miter"/>
<polygon points="580.2,310.9 586.8,310.9 583.5,316.3" fill="#fff" stroke="#a653a6" stroke-width="1.05" stroke-linejoin="miter"/>
<polygon points="585.96,293.7 592.55,293.7 589.25,299.1" fill="#fff" stroke="#a653a6" stroke-width="1.05" stroke-linejoin="miter"/>
<polygon points="591.71,273 598.31,273 595.01,278.4" fill="#fff" stroke="#a653a6" stroke-width="1.05" stroke-linejoin="miter"/>
<polygon points="390.1,391.47 396.9,391.47 393.5,385.87" fill="#fff" stroke="#e2302c" stroke-width="1.05" stroke-linejoin="miter"/>
<polygon points="401.62,391.47 408.41,391.47 405.01,385.87" fill="#fff" stroke="#e2302c" stroke-width="1.05" stroke-linejoin="miter"/>
<polygon points="407.37,391.47 414.17,391.47 410.77,385.87" fill="#fff" stroke="#e2302c" stroke-width="1.05" stroke-linejoin="miter"/>
<polygon points="413.13,391.46 419.93,391.46 416.53,385.86" fill="#fff" stroke="#e2302c" stroke-width="1.05" stroke-linejoin="miter"/>
<polygon points="418.89,391.46 425.69,391.46 422.29,385.86" fill="#fff" stroke="#e2302c" stroke-width="1.05" stroke-linejoin="miter"/>
<polygon points="424.65,391.45 431.44,391.45 428.05,385.85" fill="#fff" stroke="#e2302c" stroke-width="1.05" stroke-linejoin="miter"/>
<polygon points="430.4,391.45 437.2,391.45 433.8,385.85" fill="#fff" stroke="#e2302c" stroke-width="1.05" stroke-linejoin="miter"/>
<polygon points="436.16,391.44 442.96,391.44 439.56,385.84" fill="#fff" stroke="#e2302c" stroke-width="1.05" stroke-linejoin="miter"/>
<polygon points="441.92,391.43 448.72,391.43 445.32,385.83" fill="#fff" stroke="#e2302c" stroke-width="1.05" stroke-linejoin="miter"/>
<polygon points="447.68,391.42 454.47,391.42 451.07,385.82" fill="#fff" stroke="#e2302c" stroke-width="1.05" stroke-linejoin="miter"/>
<polygon points="453.43,391.41 460.23,391.41 456.83,385.81" fill="#fff" stroke="#e2302c" stroke-width="1.05" stroke-linejoin="miter"/>
<polygon points="459.19,391.4 465.99,391.4 462.59,385.8" fill="#fff" stroke="#e2302c" stroke-width="1.05" stroke-linejoin="miter"/>
<polygon points="464.95,391.39 471.75,391.39 468.35,385.79" fill="#fff" stroke="#e2302c" stroke-width="1.05" stroke-linejoin="miter"/>
<polygon points="470.7,391.38 477.5,391.38 474.1,385.78" fill="#fff" stroke="#e2302c" stroke-width="1.05" stroke-linejoin="miter"/>
<polygon points="476.46,391.36 483.26,391.36 479.86,385.76" fill="#fff" stroke="#e2302c" stroke-width="1.05" stroke-linejoin="miter"/>
<polygon points="482.22,391.35 489.02,391.35 485.62,385.75" fill="#fff" stroke="#e2302c" stroke-width="1.05" stroke-linejoin="miter"/>
<polygon points="487.98,391.33 494.78,391.33 491.38,385.73" fill="#fff" stroke="#e2302c" stroke-width="1.05" stroke-linejoin="miter"/>
<polygon points="493.74,391.31 500.53,391.31 497.13,385.71" fill="#fff" stroke="#e2302c" stroke-width="1.05" stroke-linejoin="miter"/>
<polygon points="499.49,391.29 506.29,391.29 502.89,385.69" fill="#fff" stroke="#e2302c" stroke-width="1.05" stroke-linejoin="miter"/>
<polygon points="505.25,391.27 512.05,391.27 508.65,385.67" fill="#fff" stroke="#e2302c" stroke-width="1.05" stroke-linejoin="miter"/>
<polygon points="511.01,391.22 517.81,391.22 514.41,385.62" fill="#fff" stroke="#e2302c" stroke-width="1.05" stroke-linejoin="miter"/>
<polygon points="516.76,391.14 523.56,391.14 520.16,385.54" fill="#fff" stroke="#e2302c" stroke-width="1.05" stroke-linejoin="miter"/>
<polygon points="522.52,391.03 529.32,391.03 525.92,385.43" fill="#fff" stroke="#e2302c" stroke-width="1.05" stroke-linejoin="miter"/>
<polygon points="528.28,390.9 535.08,390.9 531.68,385.3" fill="#fff" stroke="#e2302c" stroke-width="1.05" stroke-linejoin="miter"/>
<polygon points="534.04,390.77 540.84,390.77 537.44,385.17" fill="#fff" stroke="#e2302c" stroke-width="1.05" stroke-linejoin="miter"/>
<polygon points="539.79,390.65 546.59,390.65 543.19,385.05" fill="#fff" stroke="#e2302c" stroke-width="1.05" stroke-linejoin="miter"/>
<polygon points="545.55,390.5 552.35,390.5 548.95,384.9" fill="#fff" stroke="#e2302c" stroke-width="1.05" stroke-linejoin="miter"/>
<polygon points="551.31,390.27 558.11,390.27 554.71,384.67" fill="#fff" stroke="#e2302c" stroke-width="1.05" stroke-linejoin="miter"/>
<polygon points="557.07,390.5 563.87,390.5 560.47,384.9" fill="#fff" stroke="#e2302c" stroke-width="1.05" stroke-linejoin="miter"/>
<polygon points="562.82,390.1 569.62,390.1 566.22,384.5" fill="#fff" stroke="#e2302c" stroke-width="1.05" stroke-linejoin="miter"/>
<polygon points="568.58,389 575.38,389 571.98,383.4" fill="#fff" stroke="#e2302c" stroke-width="1.05" stroke-linejoin="miter"/>
<polygon points="574.34,387.5 581.14,387.5 577.74,381.9" fill="#fff" stroke="#e2302c" stroke-width="1.05" stroke-linejoin="miter"/>
<polygon points="580.1,385.7 586.9,385.7 583.5,380.1" fill="#fff" stroke="#e2302c" stroke-width="1.05" stroke-linejoin="miter"/>
<polygon points="585.86,384 592.65,384 589.25,378.4" fill="#fff" stroke="#e2302c" stroke-width="1.05" stroke-linejoin="miter"/>
<polygon points="591.61,381.8 598.41,381.8 595.01,376.2" fill="#fff" stroke="#e2302c" stroke-width="1.05" stroke-linejoin="miter"/>
<polygon points="597.37,379.2 604.17,379.2 600.77,373.6" fill="#fff" stroke="#e2302c" stroke-width="1.05" stroke-linejoin="miter"/>
<polygon points="603.13,375.9 609.93,375.9 606.53,370.3" fill="#fff" stroke="#e2302c" stroke-width="1.05" stroke-linejoin="miter"/>
<polygon points="608.88,371.6 615.68,371.6 612.28,366" fill="#fff" stroke="#e2302c" stroke-width="1.05" stroke-linejoin="miter"/>
<polygon points="614.64,366.1 621.44,366.1 618.04,360.5" fill="#fff" stroke="#e2302c" stroke-width="1.05" stroke-linejoin="miter"/>
<polygon points="620.4,360 627.2,360 623.8,354.4" fill="#fff" stroke="#e2302c" stroke-width="1.05" stroke-linejoin="miter"/>
<circle cx="393.5" cy="389.4" r="2.5" fill="#fff" stroke="#2250a8" stroke-width="1.05"/>
<circle cx="405.01" cy="389.4" r="2.5" fill="#fff" stroke="#2250a8" stroke-width="1.05"/>
<circle cx="410.77" cy="389.39" r="2.5" fill="#fff" stroke="#2250a8" stroke-width="1.05"/>
<circle cx="416.53" cy="389.39" r="2.5" fill="#fff" stroke="#2250a8" stroke-width="1.05"/>
<circle cx="422.29" cy="389.38" r="2.5" fill="#fff" stroke="#2250a8" stroke-width="1.05"/>
<circle cx="428.05" cy="389.37" r="2.5" fill="#fff" stroke="#2250a8" stroke-width="1.05"/>
<circle cx="433.8" cy="389.36" r="2.5" fill="#fff" stroke="#2250a8" stroke-width="1.05"/>
<circle cx="439.56" cy="389.34" r="2.5" fill="#fff" stroke="#2250a8" stroke-width="1.05"/>
<circle cx="445.32" cy="389.32" r="2.5" fill="#fff" stroke="#2250a8" stroke-width="1.05"/>
<circle cx="451.07" cy="389.3" r="2.5" fill="#fff" stroke="#2250a8" stroke-width="1.05"/>
<circle cx="456.83" cy="389.27" r="2.5" fill="#fff" stroke="#2250a8" stroke-width="1.05"/>
<circle cx="462.59" cy="389.24" r="2.5" fill="#fff" stroke="#2250a8" stroke-width="1.05"/>
<circle cx="468.35" cy="389.2" r="2.5" fill="#fff" stroke="#2250a8" stroke-width="1.05"/>
<circle cx="474.1" cy="388.78" r="2.5" fill="#fff" stroke="#2250a8" stroke-width="1.05"/>
<circle cx="479.86" cy="387.8" r="2.5" fill="#fff" stroke="#2250a8" stroke-width="1.05"/>
<circle cx="485.62" cy="385.5" r="2.5" fill="#fff" stroke="#2250a8" stroke-width="1.05"/>
<circle cx="491.38" cy="381.6" r="2.5" fill="#fff" stroke="#2250a8" stroke-width="1.05"/>
<circle cx="497.13" cy="376.6" r="2.5" fill="#fff" stroke="#2250a8" stroke-width="1.05"/>
<circle cx="502.89" cy="370" r="2.5" fill="#fff" stroke="#2250a8" stroke-width="1.05"/>
<circle cx="508.65" cy="362" r="2.5" fill="#fff" stroke="#2250a8" stroke-width="1.05"/>
<circle cx="514.41" cy="351.8" r="2.5" fill="#fff" stroke="#2250a8" stroke-width="1.05"/>
<circle cx="520.16" cy="339.7" r="2.5" fill="#fff" stroke="#2250a8" stroke-width="1.05"/>
<circle cx="525.92" cy="325.5" r="2.5" fill="#fff" stroke="#2250a8" stroke-width="1.05"/>
<circle cx="531.68" cy="308.5" r="2.5" fill="#fff" stroke="#2250a8" stroke-width="1.05"/>
<circle cx="537.44" cy="288.8" r="2.5" fill="#fff" stroke="#2250a8" stroke-width="1.05"/>
<circle cx="543.19" cy="266" r="2.5" fill="#fff" stroke="#2250a8" stroke-width="1.05"/>
<rect x="391" y="386.9" width="5" height="5" fill="#fff" stroke="#000" stroke-width="1"/>
<rect x="402.51" y="386.9" width="5" height="5" fill="#fff" stroke="#000" stroke-width="1"/>
<rect x="408.27" y="386.89" width="5" height="5" fill="#fff" stroke="#000" stroke-width="1"/>
<rect x="414.03" y="386.88" width="5" height="5" fill="#fff" stroke="#000" stroke-width="1"/>
<rect x="419.79" y="386.87" width="5" height="5" fill="#fff" stroke="#000" stroke-width="1"/>
<rect x="425.55" y="386.86" width="5" height="5" fill="#fff" stroke="#000" stroke-width="1"/>
<rect x="431.3" y="386.84" width="5" height="5" fill="#fff" stroke="#000" stroke-width="1"/>
<rect x="437.06" y="386.81" width="5" height="5" fill="#fff" stroke="#000" stroke-width="1"/>
<rect x="442.82" y="386.78" width="5" height="5" fill="#fff" stroke="#000" stroke-width="1"/>
<rect x="448.57" y="386.74" width="5" height="5" fill="#fff" stroke="#000" stroke-width="1"/>
<rect x="454.33" y="386.69" width="5" height="5" fill="#fff" stroke="#000" stroke-width="1"/>
<rect x="460.09" y="386.64" width="5" height="5" fill="#fff" stroke="#000" stroke-width="1"/>
<rect x="465.85" y="386.57" width="5" height="5" fill="#fff" stroke="#000" stroke-width="1"/>
<rect x="471.6" y="386.5" width="5" height="5" fill="#fff" stroke="#000" stroke-width="1"/>
<rect x="477.36" y="385" width="5" height="5" fill="#fff" stroke="#000" stroke-width="1"/>
<rect x="483.12" y="382.5" width="5" height="5" fill="#fff" stroke="#000" stroke-width="1"/>
<rect x="488.88" y="379.3" width="5" height="5" fill="#fff" stroke="#000" stroke-width="1"/>
<rect x="494.63" y="374.9" width="5" height="5" fill="#fff" stroke="#000" stroke-width="1"/>
<rect x="500.39" y="369" width="5" height="5" fill="#fff" stroke="#000" stroke-width="1"/>
<rect x="506.15" y="361.7" width="5" height="5" fill="#fff" stroke="#000" stroke-width="1"/>
<rect x="511.91" y="353.7" width="5" height="5" fill="#fff" stroke="#000" stroke-width="1"/>
<rect x="517.66" y="344.2" width="5" height="5" fill="#fff" stroke="#000" stroke-width="1"/>
<rect x="523.42" y="333.3" width="5" height="5" fill="#fff" stroke="#000" stroke-width="1"/>
<rect x="529.18" y="321.1" width="5" height="5" fill="#fff" stroke="#000" stroke-width="1"/>
<rect x="534.94" y="307.5" width="5" height="5" fill="#fff" stroke="#000" stroke-width="1"/>
<rect x="540.69" y="291.8" width="5" height="5" fill="#fff" stroke="#000" stroke-width="1"/>
<rect x="546.45" y="273.8" width="5" height="5" fill="#fff" stroke="#000" stroke-width="1"/>
<rect x="552.21" y="252.8" width="5" height="5" fill="#fff" stroke="#000" stroke-width="1"/>
<path d="M390.4 386.3L396.6 392.5M390.4 392.5L396.6 386.3" stroke="#828282" stroke-width="1" fill="none"/>
<path d="M401.91 386.3L408.12 392.5M401.91 392.5L408.12 386.3" stroke="#828282" stroke-width="1" fill="none"/>
<path d="M407.67 386.3L413.87 392.5M407.67 392.5L413.87 386.3" stroke="#828282" stroke-width="1" fill="none"/>
<path d="M413.43 386.29L419.63 392.49M413.43 392.49L419.63 386.29" stroke="#828282" stroke-width="1" fill="none"/>
<path d="M419.19 386.29L425.39 392.49M419.19 392.49L425.39 386.29" stroke="#828282" stroke-width="1" fill="none"/>
<path d="M424.94 386.28L431.15 392.48M424.94 392.48L431.15 386.28" stroke="#828282" stroke-width="1" fill="none"/>
<path d="M430.7 386.27L436.9 392.47M430.7 392.47L436.9 386.27" stroke="#828282" stroke-width="1" fill="none"/>
<path d="M436.46 386.25L442.66 392.45M436.46 392.45L442.66 386.25" stroke="#828282" stroke-width="1" fill="none"/>
<path d="M442.22 386.24L448.42 392.44M442.22 392.44L448.42 386.24" stroke="#828282" stroke-width="1" fill="none"/>
<path d="M447.97 386.22L454.18 392.42M447.97 392.42L454.18 386.22" stroke="#828282" stroke-width="1" fill="none"/>
<path d="M453.73 386.19L459.93 392.39M453.73 392.39L459.93 386.19" stroke="#828282" stroke-width="1" fill="none"/>
<path d="M459.49 386.17L465.69 392.37M459.49 392.37L465.69 386.17" stroke="#828282" stroke-width="1" fill="none"/>
<path d="M465.25 386.14L471.45 392.34M465.25 392.34L471.45 386.14" stroke="#828282" stroke-width="1" fill="none"/>
<path d="M471 386.1L477.2 392.3M471 392.3L477.2 386.1" stroke="#828282" stroke-width="1" fill="none"/>
<path d="M476.76 385.5L482.96 391.7M476.76 391.7L482.96 385.5" stroke="#828282" stroke-width="1" fill="none"/>
<path d="M482.52 384.4L488.72 390.6M482.52 390.6L488.72 384.4" stroke="#828282" stroke-width="1" fill="none"/>
<path d="M488.28 381.4L494.48 387.6M488.28 387.6L494.48 381.4" stroke="#828282" stroke-width="1" fill="none"/>
<path d="M494.03 377.9L500.24 384.1M494.03 384.1L500.24 377.9" stroke="#828282" stroke-width="1" fill="none"/>
<path d="M499.79 373.1L505.99 379.3M499.79 379.3L505.99 373.1" stroke="#828282" stroke-width="1" fill="none"/>
<path d="M505.55 366.9L511.75 373.1M505.55 373.1L511.75 366.9" stroke="#828282" stroke-width="1" fill="none"/>
<path d="M511.31 359.7L517.51 365.9M511.31 365.9L517.51 359.7" stroke="#828282" stroke-width="1" fill="none"/>
<path d="M517.06 351.6L523.26 357.8M517.06 357.8L523.26 351.6" stroke="#828282" stroke-width="1" fill="none"/>
<path d="M522.82 342.4L529.02 348.6M522.82 348.6L529.02 342.4" stroke="#828282" stroke-width="1" fill="none"/>
<path d="M528.58 331.9L534.78 338.1M528.58 338.1L534.78 331.9" stroke="#828282" stroke-width="1" fill="none"/>
<path d="M534.34 320.5L540.54 326.7M534.34 326.7L540.54 320.5" stroke="#828282" stroke-width="1" fill="none"/>
<path d="M540.09 307.4L546.29 313.6M540.09 313.6L546.29 307.4" stroke="#828282" stroke-width="1" fill="none"/>
<path d="M545.85 291.2L552.05 297.4M545.85 297.4L552.05 291.2" stroke="#828282" stroke-width="1" fill="none"/>
<path d="M551.61 273.2L557.81 279.4M551.61 279.4L557.81 273.2" stroke="#828282" stroke-width="1" fill="none"/>
<path d="M557.37 252.4L563.57 258.6M557.37 258.6L563.57 252.4" stroke="#828282" stroke-width="1" fill="none"/>
<circle cx="422.9" cy="269.9" r="2.5" fill="#fff" stroke="#2250a8" stroke-width="1.05"/>
<text x="432.3" y="272.7" fill="#3a5aa8" style="font-size:9.3px;"><tspan font-style="italic">p</tspan>-Pyrrd-Phen</text>
<polygon points="419.8,277.9 426,277.9 422.9,282.9" fill="#fff" stroke="#a653a6" stroke-width="1" stroke-linejoin="miter"/>
<text x="432.3" y="282.6" fill="#a85aa8" style="font-size:9.3px;"><tspan font-style="italic">p</tspan>-MeO-Phen</text>
<rect x="420.55" y="286.55" width="4.7" height="4.7" fill="#fff" stroke="#000" stroke-width="1"/>
<text x="432.3" y="291.6" fill="#000" style="font-size:9.3px;">LiF</text>
<path d="M420.1 296L425.7 301.6M420.1 301.6L425.7 296" stroke="#828282" stroke-width="1" fill="none"/>
<text x="432.3" y="301" fill="#8c8c8c" style="font-size:9.3px;">Liq</text>
<text x="581.6" y="367" fill="#e23a36" style="font-size:9.3px;">no EIL</text>
<text x="-0.4" y="474.9" fill="#000" style="font-size:17px;font-weight:bold;">f</text>
<rect x="42.2" y="476.6" width="151.1" height="170.6" fill="none" stroke="#000" stroke-width="1.1"/>
<line x1="59.4" y1="647.2" x2="59.4" y2="642.2" stroke="#000" stroke-width="1.1"/>
<line x1="59.4" y1="476.6" x2="59.4" y2="481.6" stroke="#000" stroke-width="1.1"/>
<line x1="92.85" y1="647.2" x2="92.85" y2="642.2" stroke="#000" stroke-width="1.1"/>
<line x1="92.85" y1="476.6" x2="92.85" y2="481.6" stroke="#000" stroke-width="1.1"/>
<line x1="126.3" y1="647.2" x2="126.3" y2="642.2" stroke="#000" stroke-width="1.1"/>
<line x1="126.3" y1="476.6" x2="126.3" y2="481.6" stroke="#000" stroke-width="1.1"/>
<line x1="159.75" y1="647.2" x2="159.75" y2="642.2" stroke="#000" stroke-width="1.1"/>
<line x1="159.75" y1="476.6" x2="159.75" y2="481.6" stroke="#000" stroke-width="1.1"/>
<line x1="42.2" y1="608.43" x2="47.7" y2="608.43" stroke="#000" stroke-width="1.1"/>
<line x1="193.3" y1="608.43" x2="187.8" y2="608.43" stroke="#000" stroke-width="1.1"/>
<line x1="42.2" y1="569.65" x2="47.7" y2="569.65" stroke="#000" stroke-width="1.1"/>
<line x1="193.3" y1="569.65" x2="187.8" y2="569.65" stroke="#000" stroke-width="1.1"/>
<line x1="42.2" y1="530.88" x2="47.7" y2="530.88" stroke="#000" stroke-width="1.1"/>
<line x1="193.3" y1="530.88" x2="187.8" y2="530.88" stroke="#000" stroke-width="1.1"/>
<line x1="42.2" y1="492.1" x2="47.7" y2="492.1" stroke="#000" stroke-width="1.1"/>
<line x1="193.3" y1="492.1" x2="187.8" y2="492.1" stroke="#000" stroke-width="1.1"/>
<line x1="42.2" y1="639.45" x2="45.4" y2="639.45" stroke="#000" stroke-width="1.1"/>
<line x1="193.3" y1="639.45" x2="190.1" y2="639.45" stroke="#000" stroke-width="1.1"/>
<line x1="42.2" y1="631.69" x2="45.4" y2="631.69" stroke="#000" stroke-width="1.1"/>
<line x1="193.3" y1="631.69" x2="190.1" y2="631.69" stroke="#000" stroke-width="1.1"/>
<line x1="42.2" y1="623.94" x2="45.4" y2="623.94" stroke="#000" stroke-width="1.1"/>
<line x1="193.3" y1="623.94" x2="190.1" y2="623.94" stroke="#000" stroke-width="1.1"/>
<line x1="42.2" y1="616.18" x2="45.4" y2="616.18" stroke="#000" stroke-width="1.1"/>
<line x1="193.3" y1="616.18" x2="190.1" y2="616.18" stroke="#000" stroke-width="1.1"/>
<line x1="42.2" y1="600.67" x2="45.4" y2="600.67" stroke="#000" stroke-width="1.1"/>
<line x1="193.3" y1="600.67" x2="190.1" y2="600.67" stroke="#000" stroke-width="1.1"/>
<line x1="42.2" y1="592.92" x2="45.4" y2="592.92" stroke="#000" stroke-width="1.1"/>
<line x1="193.3" y1="592.92" x2="190.1" y2="592.92" stroke="#000" stroke-width="1.1"/>
<line x1="42.2" y1="585.16" x2="45.4" y2="585.16" stroke="#000" stroke-width="1.1"/>
<line x1="193.3" y1="585.16" x2="190.1" y2="585.16" stroke="#000" stroke-width="1.1"/>
<line x1="42.2" y1="577.41" x2="45.4" y2="577.41" stroke="#000" stroke-width="1.1"/>
<line x1="193.3" y1="577.41" x2="190.1" y2="577.41" stroke="#000" stroke-width="1.1"/>
<line x1="42.2" y1="561.9" x2="45.4" y2="561.9" stroke="#000" stroke-width="1.1"/>
<line x1="193.3" y1="561.9" x2="190.1" y2="561.9" stroke="#000" stroke-width="1.1"/>
<line x1="42.2" y1="554.14" x2="45.4" y2="554.14" stroke="#000" stroke-width="1.1"/>
<line x1="193.3" y1="554.14" x2="190.1" y2="554.14" stroke="#000" stroke-width="1.1"/>
<line x1="42.2" y1="546.38" x2="45.4" y2="546.38" stroke="#000" stroke-width="1.1"/>
<line x1="193.3" y1="546.38" x2="190.1" y2="546.38" stroke="#000" stroke-width="1.1"/>
<line x1="42.2" y1="538.63" x2="45.4" y2="538.63" stroke="#000" stroke-width="1.1"/>
<line x1="193.3" y1="538.63" x2="190.1" y2="538.63" stroke="#000" stroke-width="1.1"/>
<line x1="42.2" y1="523.12" x2="45.4" y2="523.12" stroke="#000" stroke-width="1.1"/>
<line x1="193.3" y1="523.12" x2="190.1" y2="523.12" stroke="#000" stroke-width="1.1"/>
<line x1="42.2" y1="515.37" x2="45.4" y2="515.37" stroke="#000" stroke-width="1.1"/>
<line x1="193.3" y1="515.37" x2="190.1" y2="515.37" stroke="#000" stroke-width="1.1"/>
<line x1="42.2" y1="507.61" x2="45.4" y2="507.61" stroke="#000" stroke-width="1.1"/>
<line x1="193.3" y1="507.61" x2="190.1" y2="507.61" stroke="#000" stroke-width="1.1"/>
<line x1="42.2" y1="499.86" x2="45.4" y2="499.86" stroke="#000" stroke-width="1.1"/>
<line x1="193.3" y1="499.86" x2="190.1" y2="499.86" stroke="#000" stroke-width="1.1"/>
<line x1="42.2" y1="484.35" x2="45.4" y2="484.35" stroke="#000" stroke-width="1.1"/>
<line x1="193.3" y1="484.35" x2="190.1" y2="484.35" stroke="#000" stroke-width="1.1"/>
<text x="47.33" y="665" fill="#000" style="font-size:13px;">10</text>
<text x="61.78" y="659.8" fill="#000" style="font-size:8.5px;">&#8722;2</text>
<text x="80.78" y="665" fill="#000" style="font-size:13px;">10</text>
<text x="95.23" y="659.8" fill="#000" style="font-size:8.5px;">&#8722;1</text>
<text x="116.71" y="665" fill="#000" style="font-size:13px;">10</text>
<text x="131.17" y="659.8" fill="#000" style="font-size:8.5px;">0</text>
<text x="150.16" y="665" fill="#000" style="font-size:13px;">10</text>
<text x="164.62" y="659.8" fill="#000" style="font-size:8.5px;">1</text>
<text x="183.61" y="665" fill="#000" style="font-size:13px;">10</text>
<text x="198.07" y="659.8" fill="#000" style="font-size:8.5px;">2</text>
<text x="37" y="651.8" text-anchor="end" fill="#000" style="font-size:13px;">0</text>
<text x="37" y="613.03" text-anchor="end" fill="#000" style="font-size:13px;">5</text>
<text x="37" y="574.25" text-anchor="end" fill="#000" style="font-size:13px;">10</text>
<text x="37" y="535.48" text-anchor="end" fill="#000" style="font-size:13px;">15</text>
<text x="37" y="496.7" text-anchor="end" fill="#000" style="font-size:13px;">20</text>
<text x="117" y="687" text-anchor="middle" fill="#000" style="font-size:13px;"><tspan font-style="italic">J</tspan> (mA cm<tspan dy="-5" font-size="8.5">&#8722;2</tspan><tspan dy="5">)</tspan></text>
<g transform="translate(10.6 562) rotate(-90)">
<text x="0" y="0" text-anchor="middle" style="font-size:13px">EQE (%)</text>
</g>
<polygon points="39.85,581.2 47.35,581.2 43.6,574.8" fill="#e2302c"/>
<polygon points="47.55,566 55.05,566 51.3,559.6" fill="#e2302c"/>
<polygon points="55.35,554.7 62.85,554.7 59.1,548.3" fill="#e2302c"/>
<polygon points="62.55,544.8 70.05,544.8 66.3,538.4" fill="#e2302c"/>
<polygon points="69.75,535.6 77.25,535.6 73.5,529.2" fill="#e2302c"/>
<polygon points="76.75,529.7 84.25,529.7 80.5,523.3" fill="#e2302c"/>
<polygon points="83.25,524.2 90.75,524.2 87,517.8" fill="#e2302c"/>
<polygon points="89.45,520.2 96.95,520.2 93.2,513.8" fill="#e2302c"/>
<polygon points="95.65,516.6 103.15,516.6 99.4,510.2" fill="#e2302c"/>
<polygon points="101.55,513.7 109.05,513.7 105.3,507.3" fill="#e2302c"/>
<polygon points="107.25,512.4 114.75,512.4 111,506" fill="#e2302c"/>
<polygon points="112.45,510.5 119.95,510.5 116.2,504.1" fill="#e2302c"/>
<polygon points="117.55,509.1 125.05,509.1 121.3,502.7" fill="#e2302c"/>
<polygon points="122.35,508.3 129.85,508.3 126.1,501.9" fill="#e2302c"/>
<polygon points="127.45,508.3 134.95,508.3 131.2,501.9" fill="#e2302c"/>
<polygon points="131.75,508.3 139.25,508.3 135.5,501.9" fill="#e2302c"/>
<polygon points="136.15,509.1 143.65,509.1 139.9,502.7" fill="#e2302c"/>
<polygon points="140.55,510.2 148.05,510.2 144.3,503.8" fill="#e2302c"/>
<polygon points="144.55,511.6 152.05,511.6 148.3,505.2" fill="#e2302c"/>
<polygon points="148.45,513.8 155.95,513.8 152.2,507.4" fill="#e2302c"/>
<polygon points="152.75,515.8 160.25,515.8 156.5,509.4" fill="#e2302c"/>
<polygon points="156.75,518.5 164.25,518.5 160.5,512.1" fill="#e2302c"/>
<polygon points="160.45,521.4 167.95,521.4 164.2,515" fill="#e2302c"/>
<polygon points="163.65,524.2 171.15,524.2 167.4,517.8" fill="#e2302c"/>
<polygon points="166.95,527.4 174.45,527.4 170.7,521" fill="#e2302c"/>
<polygon points="170.15,531.1 177.65,531.1 173.9,524.7" fill="#e2302c"/>
<polygon points="173.15,534.3 180.65,534.3 176.9,527.9" fill="#e2302c"/>
<polygon points="176.05,537.6 183.55,537.6 179.8,531.2" fill="#e2302c"/>
<polygon points="178.95,541.2 186.45,541.2 182.7,534.8" fill="#e2302c"/>
<polygon points="181.85,544.9 189.35,544.9 185.6,538.5" fill="#e2302c"/>
<polygon points="184.75,548.5 192.25,548.5 188.5,542.1" fill="#e2302c"/>
<polygon points="187.65,552.1 195.15,552.1 191.4,545.7" fill="#e2302c"/>
<polygon points="54.35,498.4 61.85,498.4 58.1,504.8" fill="#a653a6"/>
<polygon points="67.55,493.1 75.05,493.1 71.3,499.5" fill="#a653a6"/>
<polygon points="79.65,489.8 87.15,489.8 83.4,496.2" fill="#a653a6"/>
<polygon points="89.45,487.5 96.95,487.5 93.2,493.9" fill="#a653a6"/>
<polygon points="98.65,485.6 106.15,485.6 102.4,492" fill="#a653a6"/>
<polygon points="107.25,485.9 114.75,485.9 111,492.3" fill="#a653a6"/>
<polygon points="115.05,484.6 122.55,484.6 118.8,491" fill="#a653a6"/>
<polygon points="121.75,484.5 129.25,484.5 125.5,490.9" fill="#a653a6"/>
<polygon points="128.25,484.5 135.75,484.5 132,490.9" fill="#a653a6"/>
<polygon points="134.05,485.8 141.55,485.8 137.8,492.2" fill="#a653a6"/>
<polygon points="139.25,487.1 146.75,487.1 143,493.5" fill="#a653a6"/>
<polygon points="143.85,488.4 151.35,488.4 147.6,494.8" fill="#a653a6"/>
<polygon points="149.15,490.3 156.65,490.3 152.9,496.7" fill="#a653a6"/>
<polygon points="153.05,491.7 160.55,491.7 156.8,498.1" fill="#a653a6"/>
<polygon points="157.65,493.6 165.15,493.6 161.4,500" fill="#a653a6"/>
<polygon points="162.15,495.6 169.65,495.6 165.9,502" fill="#a653a6"/>
<polygon points="166.05,498.8 173.55,498.8 169.8,505.2" fill="#a653a6"/>
<polygon points="170.05,502.1 177.55,502.1 173.8,508.5" fill="#a653a6"/>
<polygon points="173.95,505.4 181.45,505.4 177.7,511.8" fill="#a653a6"/>
<polygon points="177.85,509.3 185.35,509.3 181.6,515.7" fill="#a653a6"/>
<polygon points="181.75,513.9 189.25,513.9 185.5,520.3" fill="#a653a6"/>
<polygon points="185.65,519.1 193.15,519.1 189.4,525.5" fill="#a653a6"/>
<polygon points="189.55,525.6 197.05,525.6 193.3,532" fill="#a653a6"/>
<rect x="75.1" y="486.3" width="5.4" height="5.4" fill="#000"/>
<rect x="103" y="486.3" width="5.4" height="5.4" fill="#000"/>
<rect x="122" y="487" width="5.4" height="5.4" fill="#000"/>
<rect x="136.6" y="489.1" width="5.4" height="5.4" fill="#000"/>
<rect x="146.3" y="491.4" width="5.4" height="5.4" fill="#000"/>
<rect x="154.8" y="493.7" width="5.4" height="5.4" fill="#000"/>
<rect x="161.8" y="497.6" width="5.4" height="5.4" fill="#000"/>
<rect x="167.2" y="500.9" width="5.4" height="5.4" fill="#000"/>
<rect x="172.9" y="506.5" width="5.4" height="5.4" fill="#000"/>
<rect x="177.4" y="511" width="5.4" height="5.4" fill="#000"/>
<rect x="181.6" y="515.9" width="5.4" height="5.4" fill="#000"/>
<rect x="185.7" y="521.1" width="5.4" height="5.4" fill="#000"/>
<rect x="189.2" y="526.8" width="5.4" height="5.4" fill="#000"/>
<rect x="189.8" y="529.8" width="5.4" height="5.4" fill="#000"/>
<path d="M73.35 485.85L79.65 492.15M73.35 492.15L79.65 485.85" stroke="#828282" stroke-width="1" fill="none"/>
<path d="M101.25 485.45L107.55 491.75M101.25 491.75L107.55 485.45" stroke="#828282" stroke-width="1" fill="none"/>
<path d="M120.25 486.15L126.55 492.45M120.25 492.45L126.55 486.15" stroke="#828282" stroke-width="1" fill="none"/>
<path d="M133.55 487.45L139.85 493.75M133.55 493.75L139.85 487.45" stroke="#828282" stroke-width="1" fill="none"/>
<path d="M143.25 489.75L149.55 496.05M143.25 496.05L149.55 489.75" stroke="#828282" stroke-width="1" fill="none"/>
<path d="M151.75 492.05L158.05 498.35M151.75 498.35L158.05 492.05" stroke="#828282" stroke-width="1" fill="none"/>
<path d="M158.75 495.95L165.05 502.25M158.75 502.25L165.05 495.95" stroke="#828282" stroke-width="1" fill="none"/>
<path d="M164.15 499.25L170.45 505.55M164.15 505.55L170.45 499.25" stroke="#828282" stroke-width="1" fill="none"/>
<path d="M169.85 504.85L176.15 511.15M169.85 511.15L176.15 504.85" stroke="#828282" stroke-width="1" fill="none"/>
<path d="M174.35 509.35L180.65 515.65M174.35 515.65L180.65 509.35" stroke="#828282" stroke-width="1" fill="none"/>
<path d="M178.55 514.25L184.85 520.55M178.55 520.55L184.85 514.25" stroke="#828282" stroke-width="1" fill="none"/>
<path d="M182.65 519.45L188.95 525.75M182.65 525.75L188.95 519.45" stroke="#828282" stroke-width="1" fill="none"/>
<path d="M186.15 525.15L192.45 531.45M186.15 531.45L192.45 525.15" stroke="#828282" stroke-width="1" fill="none"/>
<path d="M189.85 528.35L196.15 534.65M189.85 534.65L196.15 528.35" stroke="#828282" stroke-width="1" fill="none"/>
<circle cx="43.7" cy="512.7" r="3" fill="#2250a8"/>
<circle cx="79.2" cy="494.6" r="3" fill="#2250a8"/>
<circle cx="105.3" cy="492.3" r="3" fill="#2250a8"/>
<circle cx="124.1" cy="492.4" r="3" fill="#2250a8"/>
<circle cx="137.5" cy="492.8" r="3" fill="#2250a8"/>
<circle cx="147.2" cy="495.1" r="3" fill="#2250a8"/>
<circle cx="155.7" cy="497.4" r="3" fill="#2250a8"/>
<circle cx="162.7" cy="501.3" r="3" fill="#2250a8"/>
<circle cx="168.1" cy="504.6" r="3" fill="#2250a8"/>
<circle cx="173.8" cy="510.2" r="3" fill="#2250a8"/>
<circle cx="178.3" cy="514.7" r="3" fill="#2250a8"/>
<circle cx="182.5" cy="519.6" r="3" fill="#2250a8"/>
<circle cx="186.6" cy="524.8" r="3" fill="#2250a8"/>
<circle cx="190.1" cy="530.5" r="3" fill="#2250a8"/>
<circle cx="86.7" cy="573.8" r="2.9" fill="#2250a8"/>
<text x="95.2" y="576.6" fill="#3a5aa8" style="font-size:9.3px;"><tspan font-style="italic">p</tspan>-Pyrrd-Phen</text>
<polygon points="83.2,580.95 90.2,580.95 86.7,586.85" fill="#a653a6"/>
<text x="95.2" y="586.6" fill="#a85aa8" style="font-size:9.3px;"><tspan font-style="italic">p</tspan>-MeO-Phen</text>
<rect x="83.9" y="590" width="5.6" height="5.6" fill="#000"/>
<text x="95.2" y="595.7" fill="#000" style="font-size:9.3px;">LiF</text>
<path d="M83.6 599.9L89.8 606.1M83.6 606.1L89.8 599.9" stroke="#828282" stroke-width="1" fill="none"/>
<text x="95.2" y="605.8" fill="#8c8c8c" style="font-size:9.3px;">Liq</text>
<text x="115.6" y="519.8" fill="#e23a36" style="font-size:9.3px;">no EIL</text>
<text x="217.25" y="474.9" fill="#000" style="font-size:17px;font-weight:bold;">g</text>
<rect x="267.8" y="476.4" width="151.2" height="170.6" fill="none" stroke="#000" stroke-width="1.1"/>
<line x1="305.6" y1="647" x2="305.6" y2="642" stroke="#000" stroke-width="1.1"/>
<line x1="305.6" y1="476.4" x2="305.6" y2="481.4" stroke="#000" stroke-width="1.1"/>
<line x1="343.4" y1="647" x2="343.4" y2="642" stroke="#000" stroke-width="1.1"/>
<line x1="343.4" y1="476.4" x2="343.4" y2="481.4" stroke="#000" stroke-width="1.1"/>
<line x1="381.2" y1="647" x2="381.2" y2="642" stroke="#000" stroke-width="1.1"/>
<line x1="381.2" y1="476.4" x2="381.2" y2="481.4" stroke="#000" stroke-width="1.1"/>
<line x1="267.8" y1="615.9" x2="273.3" y2="615.9" stroke="#000" stroke-width="1.1"/>
<line x1="419" y1="615.9" x2="413.5" y2="615.9" stroke="#000" stroke-width="1.1"/>
<line x1="267.8" y1="584.8" x2="273.3" y2="584.8" stroke="#000" stroke-width="1.1"/>
<line x1="419" y1="584.8" x2="413.5" y2="584.8" stroke="#000" stroke-width="1.1"/>
<line x1="267.8" y1="553.7" x2="273.3" y2="553.7" stroke="#000" stroke-width="1.1"/>
<line x1="419" y1="553.7" x2="413.5" y2="553.7" stroke="#000" stroke-width="1.1"/>
<line x1="267.8" y1="522.6" x2="273.3" y2="522.6" stroke="#000" stroke-width="1.1"/>
<line x1="419" y1="522.6" x2="413.5" y2="522.6" stroke="#000" stroke-width="1.1"/>
<line x1="267.8" y1="491.5" x2="273.3" y2="491.5" stroke="#000" stroke-width="1.1"/>
<line x1="419" y1="491.5" x2="413.5" y2="491.5" stroke="#000" stroke-width="1.1"/>
<line x1="267.8" y1="631.45" x2="271" y2="631.45" stroke="#000" stroke-width="1.1"/>
<line x1="419" y1="631.45" x2="415.8" y2="631.45" stroke="#000" stroke-width="1.1"/>
<line x1="267.8" y1="600.35" x2="271" y2="600.35" stroke="#000" stroke-width="1.1"/>
<line x1="419" y1="600.35" x2="415.8" y2="600.35" stroke="#000" stroke-width="1.1"/>
<line x1="267.8" y1="569.25" x2="271" y2="569.25" stroke="#000" stroke-width="1.1"/>
<line x1="419" y1="569.25" x2="415.8" y2="569.25" stroke="#000" stroke-width="1.1"/>
<line x1="267.8" y1="538.15" x2="271" y2="538.15" stroke="#000" stroke-width="1.1"/>
<line x1="419" y1="538.15" x2="415.8" y2="538.15" stroke="#000" stroke-width="1.1"/>
<line x1="267.8" y1="507.05" x2="271" y2="507.05" stroke="#000" stroke-width="1.1"/>
<line x1="419" y1="507.05" x2="415.8" y2="507.05" stroke="#000" stroke-width="1.1"/>
<line x1="267.8" y1="475.95" x2="271" y2="475.95" stroke="#000" stroke-width="1.1"/>
<line x1="419" y1="475.95" x2="415.8" y2="475.95" stroke="#000" stroke-width="1.1"/>
<text x="255.73" y="665" fill="#000" style="font-size:13px;">10</text>
<text x="270.18" y="659.8" fill="#000" style="font-size:8.5px;">&#8722;2</text>
<text x="293.53" y="665" fill="#000" style="font-size:13px;">10</text>
<text x="307.98" y="659.8" fill="#000" style="font-size:8.5px;">&#8722;1</text>
<text x="333.81" y="665" fill="#000" style="font-size:13px;">10</text>
<text x="348.27" y="659.8" fill="#000" style="font-size:8.5px;">0</text>
<text x="371.61" y="665" fill="#000" style="font-size:13px;">10</text>
<text x="386.07" y="659.8" fill="#000" style="font-size:8.5px;">1</text>
<text x="409.41" y="665" fill="#000" style="font-size:13px;">10</text>
<text x="423.87" y="659.8" fill="#000" style="font-size:8.5px;">2</text>
<text x="262.5" y="651.6" text-anchor="end" fill="#000" style="font-size:13px;">0</text>
<text x="262.5" y="620.5" text-anchor="end" fill="#000" style="font-size:13px;">20</text>
<text x="262.5" y="589.4" text-anchor="end" fill="#000" style="font-size:13px;">40</text>
<text x="262.5" y="558.3" text-anchor="end" fill="#000" style="font-size:13px;">60</text>
<text x="262.5" y="527.2" text-anchor="end" fill="#000" style="font-size:13px;">80</text>
<text x="262.5" y="496.1" text-anchor="end" fill="#000" style="font-size:13px;">100</text>
<text x="343.8" y="687" text-anchor="middle" fill="#000" style="font-size:13px;"><tspan font-style="italic">J</tspan> (mA cm<tspan dy="-5" font-size="8.5">&#8722;2</tspan><tspan dy="5">)</tspan></text>
<g transform="translate(230.6 558.1) rotate(-90)">
<text x="0" y="0" text-anchor="middle" style="font-size:12.5px">Power efficiency (lm W<tspan dy="-5.4" font-size="8.2">&#8722;1</tspan><tspan dy="5.4">)</tspan></text>
</g>
<polygon points="272.45,579.6 279.95,579.6 276.2,573.2" fill="#e2302c"/>
<polygon points="280.35,578.7 287.85,578.7 284.1,572.3" fill="#e2302c"/>
<polygon points="288.15,578.3 295.65,578.3 291.9,571.9" fill="#e2302c"/>
<polygon points="295.65,579 303.15,579 299.4,572.6" fill="#e2302c"/>
<polygon points="303.05,580 310.55,580 306.8,573.6" fill="#e2302c"/>
<polygon points="309.65,581.3 317.15,581.3 313.4,574.9" fill="#e2302c"/>
<polygon points="316.15,582.9 323.65,582.9 319.9,576.5" fill="#e2302c"/>
<polygon points="322.35,584.5 329.85,584.5 326.1,578.1" fill="#e2302c"/>
<polygon points="328.55,586.5 336.05,586.5 332.3,580.1" fill="#e2302c"/>
<polygon points="334.45,588.4 341.95,588.4 338.2,582" fill="#e2302c"/>
<polygon points="340.05,590.4 347.55,590.4 343.8,584" fill="#e2302c"/>
<polygon points="345.35,592.8 352.85,592.8 349.1,586.4" fill="#e2302c"/>
<polygon points="350.55,594.7 358.05,594.7 354.3,588.3" fill="#e2302c"/>
<polygon points="355.55,596.7 363.05,596.7 359.3,590.3" fill="#e2302c"/>
<polygon points="360.45,598.8 367.95,598.8 364.2,592.4" fill="#e2302c"/>
<polygon points="365.15,601 372.65,601 368.9,594.6" fill="#e2302c"/>
<polygon points="369.75,603.2 377.25,603.2 373.5,596.8" fill="#e2302c"/>
<polygon points="374.15,605.5 381.65,605.5 377.9,599.1" fill="#e2302c"/>
<polygon points="378.45,607.7 385.95,607.7 382.2,601.3" fill="#e2302c"/>
<polygon points="382.65,609.9 390.15,609.9 386.4,603.5" fill="#e2302c"/>
<polygon points="386.65,612 394.15,612 390.4,605.6" fill="#e2302c"/>
<polygon points="390.55,614.1 398.05,614.1 394.3,607.7" fill="#e2302c"/>
<polygon points="394.35,616.1 401.85,616.1 398.1,609.7" fill="#e2302c"/>
<polygon points="398.05,618 405.55,618 401.8,611.6" fill="#e2302c"/>
<polygon points="401.55,619.8 409.05,619.8 405.3,613.4" fill="#e2302c"/>
<polygon points="404.95,621.5 412.45,621.5 408.7,615.1" fill="#e2302c"/>
<polygon points="408.25,623 415.75,623 412,616.6" fill="#e2302c"/>
<polygon points="411.35,624.1 418.85,624.1 415.1,617.7" fill="#e2302c"/>
<polygon points="414.25,624.9 421.75,624.9 418,618.5" fill="#e2302c"/>
<polygon points="277.65,511.8 285.15,511.8 281.4,518.2" fill="#a653a6"/>
<polygon points="290.95,518.4 298.45,518.4 294.7,524.8" fill="#a653a6"/>
<polygon points="302.55,525.3 310.05,525.3 306.3,531.7" fill="#a653a6"/>
<polygon points="313.05,531.8 320.55,531.8 316.8,538.2" fill="#a653a6"/>
<polygon points="322.65,538.3 330.15,538.3 326.4,544.7" fill="#a653a6"/>
<polygon points="331.65,543.8 339.15,543.8 335.4,550.2" fill="#a653a6"/>
<polygon points="339.65,549.7 347.15,549.7 343.4,556.1" fill="#a653a6"/>
<polygon points="347.25,554.4 354.75,554.4 351,560.8" fill="#a653a6"/>
<polygon points="353.85,559.3 361.35,559.3 357.6,565.7" fill="#a653a6"/>
<polygon points="360.45,563.8 367.95,563.8 364.2,570.2" fill="#a653a6"/>
<polygon points="366.75,568.2 374.25,568.2 370.5,574.6" fill="#a653a6"/>
<polygon points="372.35,572.5 379.85,572.5 376.1,578.9" fill="#a653a6"/>
<polygon points="378.05,576.6 385.55,576.6 381.8,583" fill="#a653a6"/>
<polygon points="383.15,580.4 390.65,580.4 386.9,586.8" fill="#a653a6"/>
<polygon points="387.85,584.2 395.35,584.2 391.6,590.6" fill="#a653a6"/>
<polygon points="392.55,587.6 400.05,587.6 396.3,594" fill="#a653a6"/>
<polygon points="396.95,590.8 404.45,590.8 400.7,597.2" fill="#a653a6"/>
<polygon points="401.05,594 408.55,594 404.8,600.4" fill="#a653a6"/>
<polygon points="405.25,597.4 412.75,597.4 409,603.8" fill="#a653a6"/>
<polygon points="408.95,600.2 416.45,600.2 412.7,606.6" fill="#a653a6"/>
<polygon points="412.75,603.1 420.25,603.1 416.5,609.5" fill="#a653a6"/>
<polygon points="415.25,605.9 422.75,605.9 419,612.3" fill="#a653a6"/>
<rect x="285.5" y="494" width="5.4" height="5.4" fill="#000"/>
<rect x="318.1" y="504.9" width="5.4" height="5.4" fill="#000"/>
<rect x="339.2" y="515.7" width="5.4" height="5.4" fill="#000"/>
<rect x="355.4" y="525.1" width="5.4" height="5.4" fill="#000"/>
<rect x="366.7" y="534.2" width="5.4" height="5.4" fill="#000"/>
<rect x="376" y="542.7" width="5.4" height="5.4" fill="#000"/>
<rect x="383.7" y="550.6" width="5.4" height="5.4" fill="#000"/>
<rect x="390.1" y="557.2" width="5.4" height="5.4" fill="#000"/>
<rect x="396.4" y="564.8" width="5.4" height="5.4" fill="#000"/>
<rect x="401.6" y="571.4" width="5.4" height="5.4" fill="#000"/>
<rect x="406.4" y="577" width="5.4" height="5.4" fill="#000"/>
<rect x="410.5" y="582.7" width="5.4" height="5.4" fill="#000"/>
<rect x="414.9" y="587.8" width="5.4" height="5.4" fill="#000"/>
<rect x="415.8" y="593.8" width="5.4" height="5.4" fill="#000"/>
<path d="M283.65 493.55L289.95 499.85M283.65 499.85L289.95 493.55" stroke="#828282" stroke-width="1" fill="none"/>
<path d="M315.25 504.45L321.55 510.75M315.25 510.75L321.55 504.45" stroke="#828282" stroke-width="1" fill="none"/>
<path d="M336.55 514.85L342.85 521.15M336.55 521.15L342.85 514.85" stroke="#828282" stroke-width="1" fill="none"/>
<path d="M352.15 523.45L358.45 529.75M352.15 529.75L358.45 523.45" stroke="#828282" stroke-width="1" fill="none"/>
<path d="M363.45 532.55L369.75 538.85M363.45 538.85L369.75 532.55" stroke="#828282" stroke-width="1" fill="none"/>
<path d="M372.75 541.05L379.05 547.35M372.75 547.35L379.05 541.05" stroke="#828282" stroke-width="1" fill="none"/>
<path d="M380.45 548.95L386.75 555.25M380.45 555.25L386.75 548.95" stroke="#828282" stroke-width="1" fill="none"/>
<path d="M386.85 555.55L393.15 561.85M386.85 561.85L393.15 555.55" stroke="#828282" stroke-width="1" fill="none"/>
<path d="M393.15 563.15L399.45 569.45M393.15 569.45L399.45 563.15" stroke="#828282" stroke-width="1" fill="none"/>
<path d="M398.35 569.75L404.65 576.05M398.35 576.05L404.65 569.75" stroke="#828282" stroke-width="1" fill="none"/>
<path d="M403.15 575.35L409.45 581.65M403.15 581.65L409.45 575.35" stroke="#828282" stroke-width="1" fill="none"/>
<path d="M407.25 581.05L413.55 587.35M407.25 587.35L413.55 581.05" stroke="#828282" stroke-width="1" fill="none"/>
<path d="M411.65 586.15L417.95 592.45M411.65 592.45L417.95 586.15" stroke="#828282" stroke-width="1" fill="none"/>
<path d="M414.85 594.05L421.15 600.35M414.85 600.35L421.15 594.05" stroke="#828282" stroke-width="1" fill="none"/>
<circle cx="290.4" cy="501.8" r="3" fill="#2250a8"/>
<circle cx="319.8" cy="510.5" r="3" fill="#2250a8"/>
<circle cx="341.4" cy="520" r="3" fill="#2250a8"/>
<circle cx="356.3" cy="529.2" r="3" fill="#2250a8"/>
<circle cx="367.6" cy="538.3" r="3" fill="#2250a8"/>
<circle cx="376.9" cy="546.8" r="3" fill="#2250a8"/>
<circle cx="384.6" cy="554.7" r="3" fill="#2250a8"/>
<circle cx="391" cy="561.3" r="3" fill="#2250a8"/>
<circle cx="397.3" cy="568.9" r="3" fill="#2250a8"/>
<circle cx="402.5" cy="575.5" r="3" fill="#2250a8"/>
<circle cx="407.3" cy="581.1" r="3" fill="#2250a8"/>
<circle cx="411.4" cy="586.8" r="3" fill="#2250a8"/>
<circle cx="415.8" cy="591.9" r="3" fill="#2250a8"/>
<circle cx="287.1" cy="604" r="2.9" fill="#2250a8"/>
<text x="295.9" y="607" fill="#3a5aa8" style="font-size:9.3px;"><tspan font-style="italic">p</tspan>-Pyrrd-Phen</text>
<polygon points="283.6,611.55 290.6,611.55 287.1,617.45" fill="#a653a6"/>
<text x="295.9" y="617.2" fill="#a85aa8" style="font-size:9.3px;"><tspan font-style="italic">p</tspan>-MeO-Phen</text>
<rect x="284.3" y="620.3" width="5.6" height="5.6" fill="#000"/>
<text x="295.9" y="625.9" fill="#000" style="font-size:9.3px;">LiF</text>
<path d="M284 629.6L290.2 635.8M284 635.8L290.2 629.6" stroke="#828282" stroke-width="1" fill="none"/>
<text x="295.9" y="635.5" fill="#8c8c8c" style="font-size:9.3px;">Liq</text>
<text x="282.7" y="569.9" fill="#e23a36" style="font-size:9.3px;">no EIL</text>
<text x="443.1" y="475.1" fill="#000" style="font-size:17px;font-weight:bold;">h</text>
<rect x="510.3" y="476" width="150.2" height="171.2" fill="none" stroke="#000" stroke-width="1.1"/>
<line x1="547.85" y1="647.2" x2="547.85" y2="642.2" stroke="#000" stroke-width="1.1"/>
<line x1="547.85" y1="476" x2="547.85" y2="481" stroke="#000" stroke-width="1.1"/>
<line x1="585.4" y1="647.2" x2="585.4" y2="642.2" stroke="#000" stroke-width="1.1"/>
<line x1="585.4" y1="476" x2="585.4" y2="481" stroke="#000" stroke-width="1.1"/>
<line x1="622.95" y1="647.2" x2="622.95" y2="642.2" stroke="#000" stroke-width="1.1"/>
<line x1="622.95" y1="476" x2="622.95" y2="481" stroke="#000" stroke-width="1.1"/>
<line x1="529.08" y1="647.2" x2="529.08" y2="644" stroke="#000" stroke-width="1.1"/>
<line x1="529.08" y1="476" x2="529.08" y2="479.2" stroke="#000" stroke-width="1.1"/>
<line x1="566.62" y1="647.2" x2="566.62" y2="644" stroke="#000" stroke-width="1.1"/>
<line x1="566.62" y1="476" x2="566.62" y2="479.2" stroke="#000" stroke-width="1.1"/>
<line x1="604.17" y1="647.2" x2="604.17" y2="644" stroke="#000" stroke-width="1.1"/>
<line x1="604.17" y1="476" x2="604.17" y2="479.2" stroke="#000" stroke-width="1.1"/>
<line x1="641.73" y1="647.2" x2="641.73" y2="644" stroke="#000" stroke-width="1.1"/>
<line x1="641.73" y1="476" x2="641.73" y2="479.2" stroke="#000" stroke-width="1.1"/>
<line x1="510.3" y1="612.96" x2="515.8" y2="612.96" stroke="#000" stroke-width="1.1"/>
<line x1="660.5" y1="612.96" x2="655" y2="612.96" stroke="#000" stroke-width="1.1"/>
<line x1="510.3" y1="578.72" x2="515.8" y2="578.72" stroke="#000" stroke-width="1.1"/>
<line x1="660.5" y1="578.72" x2="655" y2="578.72" stroke="#000" stroke-width="1.1"/>
<line x1="510.3" y1="544.48" x2="515.8" y2="544.48" stroke="#000" stroke-width="1.1"/>
<line x1="660.5" y1="544.48" x2="655" y2="544.48" stroke="#000" stroke-width="1.1"/>
<line x1="510.3" y1="510.24" x2="515.8" y2="510.24" stroke="#000" stroke-width="1.1"/>
<line x1="660.5" y1="510.24" x2="655" y2="510.24" stroke="#000" stroke-width="1.1"/>
<line x1="510.3" y1="630.08" x2="513.5" y2="630.08" stroke="#000" stroke-width="1.1"/>
<line x1="660.5" y1="630.08" x2="657.3" y2="630.08" stroke="#000" stroke-width="1.1"/>
<line x1="510.3" y1="595.84" x2="513.5" y2="595.84" stroke="#000" stroke-width="1.1"/>
<line x1="660.5" y1="595.84" x2="657.3" y2="595.84" stroke="#000" stroke-width="1.1"/>
<line x1="510.3" y1="561.6" x2="513.5" y2="561.6" stroke="#000" stroke-width="1.1"/>
<line x1="660.5" y1="561.6" x2="657.3" y2="561.6" stroke="#000" stroke-width="1.1"/>
<line x1="510.3" y1="527.36" x2="513.5" y2="527.36" stroke="#000" stroke-width="1.1"/>
<line x1="660.5" y1="527.36" x2="657.3" y2="527.36" stroke="#000" stroke-width="1.1"/>
<line x1="510.3" y1="493.12" x2="513.5" y2="493.12" stroke="#000" stroke-width="1.1"/>
<line x1="660.5" y1="493.12" x2="657.3" y2="493.12" stroke="#000" stroke-width="1.1"/>
<text x="510.3" y="662.7" text-anchor="middle" fill="#000" style="font-size:13px;">0</text>
<text x="547.85" y="662.7" text-anchor="middle" fill="#000" style="font-size:13px;">100</text>
<text x="585.4" y="662.7" text-anchor="middle" fill="#000" style="font-size:13px;">200</text>
<text x="622.95" y="662.7" text-anchor="middle" fill="#000" style="font-size:13px;">300</text>
<text x="660.5" y="662.7" text-anchor="middle" fill="#000" style="font-size:13px;">400</text>
<text x="503.6" y="651.8" text-anchor="end" fill="#000" style="font-size:13px;">5000</text>
<text x="503.6" y="617.56" text-anchor="end" fill="#000" style="font-size:13px;">6000</text>
<text x="503.6" y="583.32" text-anchor="end" fill="#000" style="font-size:13px;">7000</text>
<text x="503.6" y="549.08" text-anchor="end" fill="#000" style="font-size:13px;">8000</text>
<text x="503.6" y="514.84" text-anchor="end" fill="#000" style="font-size:13px;">9000</text>
<text x="503.6" y="480.6" text-anchor="end" fill="#000" style="font-size:13px;">10000</text>
<text x="585.4" y="682.2" text-anchor="middle" fill="#000" style="font-size:13px;">Time (h)</text>
<g transform="translate(455.4 561.5) rotate(-90)">
<text x="0" y="0" text-anchor="middle" style="font-size:13px"><tspan font-style="italic">L</tspan> (cd m<tspan dy="-5.6" font-size="8.5">&#8722;2</tspan><tspan dy="5.6">)</tspan></text>
</g>
<polygon points="505.85,480.7 513.35,480.7 509.6,474.3" fill="#e2302c"/>
<polygon points="504.65,487 512.15,487 508.4,480.6" fill="#e2302c"/>
<polygon points="505.35,495 512.85,495 509.1,488.6" fill="#e2302c"/>
<polygon points="505.95,509.9 513.45,509.9 509.7,503.5" fill="#e2302c"/>
<polygon points="507.05,516.9 514.55,516.9 510.8,510.5" fill="#e2302c"/>
<polygon points="507.45,526 514.95,526 511.2,519.6" fill="#e2302c"/>
<polygon points="507.75,533.6 515.25,533.6 511.5,527.2" fill="#e2302c"/>
<polygon points="508.85,545.9 516.35,545.9 512.6,539.5" fill="#e2302c"/>
<polygon points="509.95,557.6 517.45,557.6 513.7,551.2" fill="#e2302c"/>
<polygon points="511.15,564.7 518.65,564.7 514.9,558.3" fill="#e2302c"/>
<polygon points="512.45,572.7 519.95,572.7 516.2,566.3" fill="#e2302c"/>
<polygon points="513.75,585.9 521.25,585.9 517.5,579.5" fill="#e2302c"/>
<polygon points="515.85,598.1 523.35,598.1 519.6,591.7" fill="#e2302c"/>
<polygon points="517.85,607.2 525.35,607.2 521.6,600.8" fill="#e2302c"/>
<polygon points="519.85,613 527.35,613 523.6,606.6" fill="#e2302c"/>
<polygon points="521.25,622.2 528.75,622.2 525,615.8" fill="#e2302c"/>
<polygon points="523.25,630.2 530.75,630.2 527,623.8" fill="#e2302c"/>
<polygon points="524.85,635.7 532.35,635.7 528.6,629.3" fill="#e2302c"/>
<polygon points="527.15,644.5 534.65,644.5 530.9,638.1" fill="#e2302c"/>
<polygon points="528.65,647.7 536.15,647.7 532.4,641.3" fill="#e2302c"/>
<polygon points="507.15,475.3 514.65,475.3 510.9,481.7" fill="#a653a6"/>
<polygon points="507.35,481.8 514.85,481.8 511.1,488.2" fill="#a653a6"/>
<polygon points="507.45,488.3 514.95,488.3 511.2,494.7" fill="#a653a6"/>
<polygon points="507.45,495.1 514.95,495.1 511.2,501.5" fill="#a653a6"/>
<polygon points="509.95,500.9 517.45,500.9 513.7,507.3" fill="#a653a6"/>
<polygon points="510.65,505.4 518.15,505.4 514.4,511.8" fill="#a653a6"/>
<polygon points="512.15,511.2 519.65,511.2 515.9,517.6" fill="#a653a6"/>
<polygon points="513.55,518.9 521.05,518.9 517.3,525.3" fill="#a653a6"/>
<polygon points="515.45,525 522.95,525 519.2,531.4" fill="#a653a6"/>
<polygon points="517.25,531.6 524.75,531.6 521,538" fill="#a653a6"/>
<polygon points="519.05,536.6 526.55,536.6 522.8,543" fill="#a653a6"/>
<polygon points="520.85,541.7 528.35,541.7 524.6,548.1" fill="#a653a6"/>
<polygon points="522.65,546.8 530.15,546.8 526.4,553.2" fill="#a653a6"/>
<polygon points="524.45,551.2 531.95,551.2 528.2,557.6" fill="#a653a6"/>
<polygon points="526.55,555.2 534.05,555.2 530.3,561.6" fill="#a653a6"/>
<polygon points="528.83,559.46 536.33,559.46 532.58,565.86" fill="#a653a6"/>
<polygon points="531.11,563.72 538.61,563.72 534.86,570.12" fill="#a653a6"/>
<polygon points="533.39,567.98 540.89,567.98 537.14,574.38" fill="#a653a6"/>
<polygon points="535.67,572.24 543.17,572.24 539.42,578.64" fill="#a653a6"/>
<polygon points="537.95,576.5 545.45,576.5 541.7,582.9" fill="#a653a6"/>
<polygon points="540.23,580.76 547.73,580.76 543.98,587.16" fill="#a653a6"/>
<polygon points="542.51,585.02 550.01,585.02 546.26,591.42" fill="#a653a6"/>
<polygon points="544.79,589.28 552.29,589.28 548.54,595.68" fill="#a653a6"/>
<polygon points="547.07,593.54 554.57,593.54 550.82,599.94" fill="#a653a6"/>
<polygon points="549.35,597.8 556.85,597.8 553.1,604.2" fill="#a653a6"/>
<polygon points="556.75,610.2 564.25,610.2 560.5,616.6" fill="#a653a6"/>
<polygon points="564.25,619.5 571.75,619.5 568,625.9" fill="#a653a6"/>
<polygon points="571.45,627.8 578.95,627.8 575.2,634.2" fill="#a653a6"/>
<polygon points="579.15,636.1 586.65,636.1 582.9,642.5" fill="#a653a6"/>
<polygon points="586.95,643.7 594.45,643.7 590.7,650.1" fill="#a653a6"/>
<rect x="509.17" y="483.75" width="5.4" height="5.4" fill="#000"/>
<rect x="509.98" y="486.84" width="5.4" height="5.4" fill="#000"/>
<rect x="510.79" y="489.93" width="5.4" height="5.4" fill="#000"/>
<rect x="511.62" y="493.01" width="5.4" height="5.4" fill="#000"/>
<rect x="512.41" y="496.11" width="5.4" height="5.4" fill="#000"/>
<rect x="513.2" y="499.2" width="5.4" height="5.4" fill="#000"/>
<rect x="513.3" y="503.3" width="5.4" height="5.4" fill="#000"/>
<rect x="516.3" y="509.3" width="5.4" height="5.4" fill="#000"/>
<rect x="519.3" y="515.3" width="5.4" height="5.4" fill="#000"/>
<rect x="522.2" y="523" width="5.4" height="5.4" fill="#000"/>
<rect x="527.02" y="529.91" width="5.4" height="5.4" fill="#000"/>
<rect x="531.47" y="537.08" width="5.4" height="5.4" fill="#000"/>
<rect x="535.98" y="544.21" width="5.4" height="5.4" fill="#000"/>
<rect x="540.68" y="551.2" width="5.4" height="5.4" fill="#000"/>
<rect x="545.89" y="557.83" width="5.4" height="5.4" fill="#000"/>
<rect x="556.5" y="570.8" width="5.4" height="5.4" fill="#000"/>
<rect x="572.5" y="588.4" width="5.4" height="5.4" fill="#000"/>
<rect x="585.9" y="603.1" width="5.4" height="5.4" fill="#000"/>
<rect x="601.2" y="616.9" width="5.4" height="5.4" fill="#000"/>
<rect x="616.4" y="629.7" width="5.4" height="5.4" fill="#000"/>
<rect x="631.6" y="641.9" width="5.4" height="5.4" fill="#000"/>
<path d="M507.65 473.85L513.95 480.15M507.65 480.15L513.95 473.85" stroke="#828282" stroke-width="1" fill="none"/>
<path d="M509.35 477.05L515.65 483.35M509.35 483.35L515.65 477.05" stroke="#828282" stroke-width="1" fill="none"/>
<path d="M511.15 483.85L517.45 490.15M511.15 490.15L517.45 483.85" stroke="#828282" stroke-width="1" fill="none"/>
<path d="M513.75 491.15L520.05 497.45M513.75 497.45L520.05 491.15" stroke="#828282" stroke-width="1" fill="none"/>
<path d="M516.25 497.75L522.55 504.05M516.25 504.05L522.55 497.75" stroke="#828282" stroke-width="1" fill="none"/>
<path d="M518.75 503.15L525.05 509.45M518.75 509.45L525.05 503.15" stroke="#828282" stroke-width="1" fill="none"/>
<path d="M521.65 508.35L527.95 514.65M521.65 514.65L527.95 508.35" stroke="#828282" stroke-width="1" fill="none"/>
<path d="M524.65 512.75L530.95 519.05M524.65 519.05L530.95 512.75" stroke="#828282" stroke-width="1" fill="none"/>
<path d="M527.15 517.45L533.45 523.75M527.15 523.75L533.45 517.45" stroke="#828282" stroke-width="1" fill="none"/>
<path d="M529.65 522.15L535.95 528.45M529.65 528.45L535.95 522.15" stroke="#828282" stroke-width="1" fill="none"/>
<path d="M531.85 526.55L538.15 532.85M531.85 532.85L538.15 526.55" stroke="#828282" stroke-width="1" fill="none"/>
<path d="M534.45 530.15L540.75 536.45M534.45 536.45L540.75 530.15" stroke="#828282" stroke-width="1" fill="none"/>
<path d="M536.95 533.85L543.25 540.15M536.95 540.15L543.25 533.85" stroke="#828282" stroke-width="1" fill="none"/>
<path d="M540.15 537.85L546.45 544.15M540.15 544.15L546.45 537.85" stroke="#828282" stroke-width="1" fill="none"/>
<path d="M543.15 541.45L549.45 547.75M543.15 547.75L549.45 541.45" stroke="#828282" stroke-width="1" fill="none"/>
<path d="M545.75 544.45L552.05 550.75M545.75 550.75L552.05 544.45" stroke="#828282" stroke-width="1" fill="none"/>
<path d="M547.75 547.05L554.05 553.35M547.75 553.35L554.05 547.05" stroke="#828282" stroke-width="1" fill="none"/>
<path d="M549.75 550.05L556.05 556.35M549.75 556.35L556.05 550.05" stroke="#828282" stroke-width="1" fill="none"/>
<path d="M551.85 553.15L558.15 559.45M551.85 559.45L558.15 553.15" stroke="#828282" stroke-width="1" fill="none"/>
<path d="M558.55 562.75L564.85 569.05M558.55 569.05L564.85 562.75" stroke="#828282" stroke-width="1" fill="none"/>
<path d="M569.15 573.55L575.45 579.85M569.15 579.85L575.45 573.55" stroke="#828282" stroke-width="1" fill="none"/>
<path d="M578.45 583.15L584.75 589.45M578.45 589.45L584.75 583.15" stroke="#828282" stroke-width="1" fill="none"/>
<path d="M588.85 592.95L595.15 599.25M588.85 599.25L595.15 592.95" stroke="#828282" stroke-width="1" fill="none"/>
<path d="M599.55 601.65L605.85 607.95M599.55 607.95L605.85 601.65" stroke="#828282" stroke-width="1" fill="none"/>
<path d="M610.15 610.25L616.45 616.55M610.15 616.55L616.45 610.25" stroke="#828282" stroke-width="1" fill="none"/>
<path d="M620.75 618.65L627.05 624.95M620.75 624.95L627.05 618.65" stroke="#828282" stroke-width="1" fill="none"/>
<path d="M631.15 626.35L637.45 632.65M631.15 632.65L637.45 626.35" stroke="#828282" stroke-width="1" fill="none"/>
<path d="M641.65 633.55L647.95 639.85M641.65 639.85L647.95 633.55" stroke="#828282" stroke-width="1" fill="none"/>
<path d="M652.45 639.95L658.75 646.25M652.45 646.25L658.75 639.95" stroke="#828282" stroke-width="1" fill="none"/>
<circle cx="509.8" cy="476.3" r="3" fill="#2250a8"/>
<circle cx="510.63" cy="479.38" r="3" fill="#2250a8"/>
<circle cx="511.46" cy="482.47" r="3" fill="#2250a8"/>
<circle cx="512.27" cy="485.55" r="3" fill="#2250a8"/>
<circle cx="513.08" cy="488.64" r="3" fill="#2250a8"/>
<circle cx="513.89" cy="491.73" r="3" fill="#2250a8"/>
<circle cx="514.72" cy="494.81" r="3" fill="#2250a8"/>
<circle cx="515.51" cy="497.91" r="3" fill="#2250a8"/>
<circle cx="516.3" cy="501" r="3" fill="#2250a8"/>
<circle cx="518.4" cy="507.8" r="3" fill="#2250a8"/>
<circle cx="521.1" cy="514" r="3" fill="#2250a8"/>
<circle cx="523.7" cy="519.5" r="3" fill="#2250a8"/>
<circle cx="526" cy="524.6" r="3" fill="#2250a8"/>
<circle cx="527.65" cy="526.88" r="3" fill="#2250a8"/>
<circle cx="529.3" cy="529.15" r="3" fill="#2250a8"/>
<circle cx="530.82" cy="531.51" r="3" fill="#2250a8"/>
<circle cx="532.31" cy="533.9" r="3" fill="#2250a8"/>
<circle cx="533.79" cy="536.29" r="3" fill="#2250a8"/>
<circle cx="535.27" cy="538.68" r="3" fill="#2250a8"/>
<circle cx="536.76" cy="541.07" r="3" fill="#2250a8"/>
<circle cx="538.26" cy="543.44" r="3" fill="#2250a8"/>
<circle cx="539.78" cy="545.81" r="3" fill="#2250a8"/>
<circle cx="541.29" cy="548.18" r="3" fill="#2250a8"/>
<circle cx="542.82" cy="550.54" r="3" fill="#2250a8"/>
<circle cx="544.48" cy="552.8" r="3" fill="#2250a8"/>
<circle cx="546.26" cy="554.98" r="3" fill="#2250a8"/>
<circle cx="548.01" cy="557.18" r="3" fill="#2250a8"/>
<circle cx="549.69" cy="559.43" r="3" fill="#2250a8"/>
<circle cx="551.39" cy="561.67" r="3" fill="#2250a8"/>
<circle cx="553.1" cy="563.9" r="3" fill="#2250a8"/>
<circle cx="561.7" cy="574.6" r="3" fill="#2250a8"/>
<circle cx="572.8" cy="586.6" r="3" fill="#2250a8"/>
<circle cx="582.9" cy="597" r="3" fill="#2250a8"/>
<circle cx="593.7" cy="606.9" r="3" fill="#2250a8"/>
<circle cx="604.1" cy="615.6" r="3" fill="#2250a8"/>
<circle cx="614.7" cy="624" r="3" fill="#2250a8"/>
<circle cx="625.3" cy="631.5" r="3" fill="#2250a8"/>
<circle cx="635.8" cy="638.2" r="3" fill="#2250a8"/>
<circle cx="646.6" cy="644.6" r="3" fill="#2250a8"/>
<circle cx="580.8" cy="506.8" r="2.9" fill="#2250a8"/>
<text x="589.4" y="510.1" fill="#3a5aa8" style="font-size:9.3px;"><tspan font-style="italic">p</tspan>-Pyrrd-Phen</text>
<polygon points="577.3,514.35 584.3,514.35 580.8,520.25" fill="#a653a6"/>
<text x="589.4" y="520.7" fill="#a85aa8" style="font-size:9.3px;"><tspan font-style="italic">p</tspan>-MeO-Phen</text>
<rect x="578" y="523.1" width="5.6" height="5.6" fill="#000"/>
<text x="589.4" y="530.1" fill="#000" style="font-size:9.3px;">LiF</text>
<path d="M577.7 532.6L583.9 538.8M577.7 538.8L583.9 532.6" stroke="#828282" stroke-width="1" fill="none"/>
<text x="589.4" y="539.5" fill="#8c8c8c" style="font-size:9.3px;">Liq</text>
<text x="535.6" y="636.5" fill="#e23a36" style="font-size:9.3px;">no EIL</text>
</svg>
</body></html>
